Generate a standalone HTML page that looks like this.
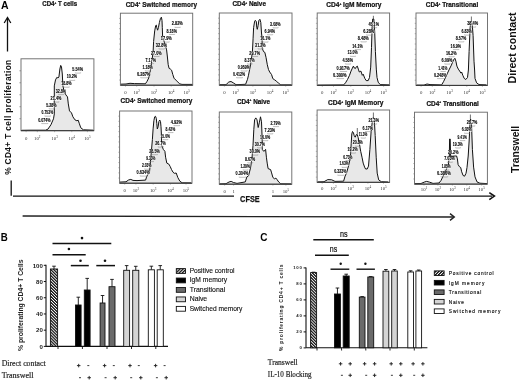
<!DOCTYPE html>
<html><head><meta charset="utf-8"><style>
html,body{margin:0;padding:0;background:#fff;width:520px;height:381px;overflow:hidden}
svg{display:block;will-change:transform}
</style></head><body>
<svg width="520" height="381" viewBox="0 0 520 381"><defs>
<pattern id="hB" width="2.1" height="2.1" patternUnits="userSpaceOnUse" patternTransform="rotate(-45)"><rect width="2.1" height="2.1" fill="#fff"/><rect width="1.25" height="2.1" fill="#111"/></pattern>
<pattern id="hC" width="1.9" height="1.9" patternUnits="userSpaceOnUse" patternTransform="rotate(-45)"><rect width="1.9" height="1.9" fill="#fff"/><rect width="1.1" height="1.9" fill="#111"/></pattern>
<pattern id="hL" width="2.2" height="2.2" patternUnits="userSpaceOnUse" patternTransform="rotate(45)"><rect width="2.2" height="2.2" fill="#fff"/><rect width="1.3" height="2.2" fill="#111"/></pattern>
</defs>
<text x="1.0" y="9.3" font-family='"Liberation Sans", sans-serif' font-size="10.6" font-weight="bold" fill="#000" text-anchor="start" textLength="7.6" lengthAdjust="spacingAndGlyphs" >A</text>
<line x1="7.5" y1="18" x2="7.5" y2="51.5" stroke="#111" stroke-width="1.3" />
<polyline points="4.2,23 7.5,17.5 10.8,23" fill="none" stroke="#111" stroke-width="1.3"/>
<text transform="translate(11.2,174.8) rotate(-90)" font-family='"Liberation Sans", sans-serif' font-size="8.3" font-weight="bold" fill="#111" textLength="115" lengthAdjust="spacing">% CD4+ T cell proliferation</text>
<line x1="11.2" y1="180.5" x2="11.2" y2="195.8" stroke="#111" stroke-width="1.3" />
<line x1="13" y1="196.1" x2="234" y2="196.1" stroke="#111" stroke-width="1.3" />
<line x1="272" y1="196.1" x2="492" y2="196.1" stroke="#111" stroke-width="1.3" />
<polyline points="489.3,192.6 494.4,196.1 489.3,199.6" fill="none" stroke="#111" stroke-width="1.6"/>
<text x="240.1" y="201.5" font-family='"Liberation Sans", sans-serif' font-size="9.9" font-weight="bold" fill="#111" text-anchor="start" textLength="19.6" lengthAdjust="spacingAndGlyphs" stroke="#111" stroke-width="0.25">CFSE</text>
<line x1="22.6" y1="216" x2="454" y2="217" stroke="#222" stroke-width="1.3" />
<polyline points="450,213.6 454.3,217 450,220.4" fill="none" stroke="#222" stroke-width="1.4"/>
<text transform="translate(516.3,83.4) rotate(-90)" font-family='"Liberation Sans", sans-serif' font-size="11.5" font-weight="bold" fill="#111" textLength="71" lengthAdjust="spacingAndGlyphs">Direct contact</text>
<text transform="translate(518.9,172.9) rotate(-90)" font-family='"Liberation Sans", sans-serif' font-size="10.3" font-weight="bold" fill="#111" textLength="47" lengthAdjust="spacingAndGlyphs">Transwell</text>
<text x="42.2" y="6.0" font-family='"Liberation Sans", sans-serif' font-size="6.9" font-weight="bold" fill="#111" stroke="#111" stroke-width="0.22" textLength="35" lengthAdjust="spacingAndGlyphs">CD4<tspan font-size="3.4" dy="-2.3">+</tspan><tspan dy="2.3"> T cells</tspan></text>
<line x1="19.4" y1="118.71666666666665" x2="21" y2="118.71666666666665" stroke="#888" stroke-width="0.8" />
<line x1="19.4" y1="106.73333333333332" x2="21" y2="106.73333333333332" stroke="#888" stroke-width="0.8" />
<line x1="19.4" y1="94.75" x2="21" y2="94.75" stroke="#888" stroke-width="0.8" />
<line x1="19.4" y1="82.76666666666665" x2="21" y2="82.76666666666665" stroke="#888" stroke-width="0.8" />
<line x1="19.4" y1="70.78333333333333" x2="21" y2="70.78333333333333" stroke="#888" stroke-width="0.8" />
<line x1="26.1" y1="130.7" x2="26.1" y2="132.2" stroke="#999" stroke-width="0.6" />
<text x="26.1" y="139.7" font-family='"Liberation Serif", serif' font-size="4.8" font-weight="normal" fill="#333" text-anchor="middle" >0</text>
<line x1="37.3" y1="130.7" x2="37.3" y2="132.2" stroke="#999" stroke-width="0.6" />
<text x="37.3" y="139.7" font-family='"Liberation Serif", serif' font-size="4.8" fill="#333" text-anchor="middle">10<tspan font-size="3.3" dy="-2.1">2</tspan></text>
<line x1="54.6" y1="130.7" x2="54.6" y2="132.2" stroke="#999" stroke-width="0.6" />
<text x="54.6" y="139.7" font-family='"Liberation Serif", serif' font-size="4.8" fill="#333" text-anchor="middle">10<tspan font-size="3.3" dy="-2.1">3</tspan></text>
<line x1="71.8" y1="130.7" x2="71.8" y2="132.2" stroke="#999" stroke-width="0.6" />
<text x="71.8" y="139.7" font-family='"Liberation Serif", serif' font-size="4.8" fill="#333" text-anchor="middle">10<tspan font-size="3.3" dy="-2.1">4</tspan></text>
<line x1="87.4" y1="130.7" x2="87.4" y2="132.2" stroke="#999" stroke-width="0.6" />
<text x="87.4" y="139.7" font-family='"Liberation Serif", serif' font-size="4.8" fill="#333" text-anchor="middle">10<tspan font-size="3.3" dy="-2.1">5</tspan></text>
<path d="M21.5,130.3 L30.0,130.2 L45.5,130.2 L47.9,129.2 L50.9,124.8 L53.5,118.8 L54.3,113.9 L54.3,85.9 L55.5,79.9 L56.9,77.3 L57.9,78.0 L58.9,77.0 L59.9,69.0 L60.7,65.4 L61.5,67.0 L62.3,74.0 L62.9,85.9 L64.3,91.9 L65.9,94.9 L67.5,96.9 L68.3,103.9 L69.5,110.9 L71.5,112.9 L72.9,116.8 L74.9,119.8 L76.9,120.8 L78.2,120.2 L79.4,123.8 L80.8,127.8 L83.4,129.8 L93.5,130.2 L93.5,130.7 L21.5,130.7 Z" fill="#e8e8e8" stroke="none"/>
<path d="M21.5,130.3 L30.0,130.2 L45.5,130.2 L47.9,129.2 L50.9,124.8 L53.5,118.8 L54.3,113.9 L54.3,85.9 L55.5,79.9 L56.9,77.3 L57.9,78.0 L58.9,77.0 L59.9,69.0 L60.7,65.4 L61.5,67.0 L62.3,74.0 L62.9,85.9 L64.3,91.9 L65.9,94.9 L67.5,96.9 L68.3,103.9 L69.5,110.9 L71.5,112.9 L72.9,116.8 L74.9,119.8 L76.9,120.8 L78.2,120.2 L79.4,123.8 L80.8,127.8 L83.4,129.8 L93.5,130.2" fill="none" stroke="#111" stroke-width="1" stroke-linejoin="round"/>
<rect x="38.0" y="118.1" width="12.8" height="3.9" fill="#fff" fill-opacity="0.85"/>
<text x="38.2" y="121.6" font-family='"Liberation Sans", sans-serif' font-size="4.5" font-weight="bold" fill="#000" stroke="#000" stroke-width="0.1" textLength="12.4" lengthAdjust="spacingAndGlyphs">0.074%</text>
<polyline points="41.7,123.0 41.7,123.6 47.9,123.6 47.9,123.0" fill="none" stroke="#8a8a8a" stroke-width="0.55"/>
<rect x="41.4" y="110.7" width="12.0" height="3.9" fill="#fff" fill-opacity="0.85"/>
<text x="41.6" y="114.2" font-family='"Liberation Sans", sans-serif' font-size="4.5" font-weight="bold" fill="#000" stroke="#000" stroke-width="0.1" textLength="11.6" lengthAdjust="spacingAndGlyphs">0.753%</text>
<polyline points="44.8,115.6 44.8,116.2 50.6,116.2 50.6,115.6" fill="none" stroke="#8a8a8a" stroke-width="0.55"/>
<rect x="46.0" y="103.4" width="10.8" height="3.9" fill="#fff" fill-opacity="0.85"/>
<text x="46.2" y="106.9" font-family='"Liberation Sans", sans-serif' font-size="4.5" font-weight="bold" fill="#000" stroke="#000" stroke-width="0.1" textLength="10.4" lengthAdjust="spacingAndGlyphs">5.28%</text>
<polyline points="49.1,108.3 49.1,108.9 54.3,108.9 54.3,108.3" fill="none" stroke="#8a8a8a" stroke-width="0.55"/>
<rect x="50.4" y="96.6" width="11.2" height="3.9" fill="#fff" fill-opacity="0.85"/>
<text x="50.6" y="100.1" font-family='"Liberation Sans", sans-serif' font-size="4.5" font-weight="bold" fill="#000" stroke="#000" stroke-width="0.1" textLength="10.8" lengthAdjust="spacingAndGlyphs">21.4%</text>
<polyline points="53.6,101.5 53.6,102.1 59.0,102.1 59.0,101.5" fill="none" stroke="#8a8a8a" stroke-width="0.55"/>
<rect x="55.5" y="89.1" width="10.7" height="3.9" fill="#fff" fill-opacity="0.85"/>
<text x="55.7" y="92.6" font-family='"Liberation Sans", sans-serif' font-size="4.5" font-weight="bold" fill="#000" stroke="#000" stroke-width="0.1" textLength="10.3" lengthAdjust="spacingAndGlyphs">32.8%</text>
<polyline points="58.6,94.0 58.6,94.6 63.7,94.6 63.7,94.0" fill="none" stroke="#8a8a8a" stroke-width="0.55"/>
<rect x="61.0" y="81.7" width="10.8" height="3.9" fill="#fff" fill-opacity="0.85"/>
<text x="61.2" y="85.2" font-family='"Liberation Sans", sans-serif' font-size="4.5" font-weight="bold" fill="#000" stroke="#000" stroke-width="0.1" textLength="10.4" lengthAdjust="spacingAndGlyphs">18.8%</text>
<polyline points="64.1,86.6 64.1,87.2 69.3,87.2 69.3,86.6" fill="none" stroke="#8a8a8a" stroke-width="0.55"/>
<rect x="66.5" y="74.9" width="10.8" height="3.9" fill="#fff" fill-opacity="0.85"/>
<text x="66.7" y="78.4" font-family='"Liberation Sans", sans-serif' font-size="4.5" font-weight="bold" fill="#000" stroke="#000" stroke-width="0.1" textLength="10.4" lengthAdjust="spacingAndGlyphs">10.2%</text>
<polyline points="69.6,79.8 69.6,80.4 74.8,80.4 74.8,79.8" fill="none" stroke="#8a8a8a" stroke-width="0.55"/>
<rect x="72.1" y="67.6" width="11.1" height="3.9" fill="#fff" fill-opacity="0.85"/>
<text x="72.3" y="71.1" font-family='"Liberation Sans", sans-serif' font-size="4.5" font-weight="bold" fill="#000" stroke="#000" stroke-width="0.1" textLength="10.7" lengthAdjust="spacingAndGlyphs">5.54%</text>
<polyline points="75.3,72.5 75.3,73.1 80.6,73.1 80.6,72.5" fill="none" stroke="#8a8a8a" stroke-width="0.55"/>
<rect x="21" y="58.8" width="72.9" height="71.89999999999999" fill="none" stroke="#6e6e6e" stroke-width="0.95"/>
<line x1="21" y1="130.7" x2="93.9" y2="130.7" stroke="#333" stroke-width="1.0" />
<text x="125.7" y="6.5" font-family='"Liberation Sans", sans-serif' font-size="6.9" font-weight="bold" fill="#111" stroke="#111" stroke-width="0.22" textLength="71.3" lengthAdjust="spacingAndGlyphs">CD4<tspan font-size="3.4" dy="-2.3">+</tspan><tspan dy="2.3"> Switched memory</tspan></text>
<line x1="119.10000000000001" y1="80.05714285714286" x2="120.4" y2="80.05714285714286" stroke="#999" stroke-width="0.7" />
<line x1="119.10000000000001" y1="74.91428571428571" x2="120.4" y2="74.91428571428571" stroke="#999" stroke-width="0.7" />
<line x1="119.10000000000001" y1="69.77142857142857" x2="120.4" y2="69.77142857142857" stroke="#999" stroke-width="0.7" />
<line x1="119.10000000000001" y1="64.62857142857143" x2="120.4" y2="64.62857142857143" stroke="#999" stroke-width="0.7" />
<line x1="119.10000000000001" y1="59.48571428571429" x2="120.4" y2="59.48571428571429" stroke="#999" stroke-width="0.7" />
<line x1="119.10000000000001" y1="54.34285714285714" x2="120.4" y2="54.34285714285714" stroke="#999" stroke-width="0.7" />
<line x1="119.10000000000001" y1="49.2" x2="120.4" y2="49.2" stroke="#999" stroke-width="0.7" />
<line x1="119.10000000000001" y1="44.05714285714286" x2="120.4" y2="44.05714285714286" stroke="#999" stroke-width="0.7" />
<line x1="119.10000000000001" y1="38.91428571428572" x2="120.4" y2="38.91428571428572" stroke="#999" stroke-width="0.7" />
<line x1="119.10000000000001" y1="33.77142857142857" x2="120.4" y2="33.77142857142857" stroke="#999" stroke-width="0.7" />
<line x1="119.10000000000001" y1="28.628571428571433" x2="120.4" y2="28.628571428571433" stroke="#999" stroke-width="0.7" />
<line x1="119.10000000000001" y1="23.485714285714288" x2="120.4" y2="23.485714285714288" stroke="#999" stroke-width="0.7" />
<line x1="119.10000000000001" y1="18.34285714285714" x2="120.4" y2="18.34285714285714" stroke="#999" stroke-width="0.7" />
<line x1="125.5" y1="85.2" x2="125.5" y2="86.7" stroke="#999" stroke-width="0.6" />
<text x="125.5" y="94.3" font-family='"Liberation Serif", serif' font-size="4.8" font-weight="normal" fill="#333" text-anchor="middle" >0</text>
<line x1="136.70000000000002" y1="85.2" x2="136.70000000000002" y2="86.7" stroke="#999" stroke-width="0.6" />
<text x="136.7" y="94.3" font-family='"Liberation Serif", serif' font-size="4.8" fill="#333" text-anchor="middle">10<tspan font-size="3.3" dy="-2.1">2</tspan></text>
<line x1="154.0" y1="85.2" x2="154.0" y2="86.7" stroke="#999" stroke-width="0.6" />
<text x="154.0" y="94.3" font-family='"Liberation Serif", serif' font-size="4.8" fill="#333" text-anchor="middle">10<tspan font-size="3.3" dy="-2.1">3</tspan></text>
<line x1="171.2" y1="85.2" x2="171.2" y2="86.7" stroke="#999" stroke-width="0.6" />
<text x="171.2" y="94.3" font-family='"Liberation Serif", serif' font-size="4.8" fill="#333" text-anchor="middle">10<tspan font-size="3.3" dy="-2.1">4</tspan></text>
<line x1="186.8" y1="85.2" x2="186.8" y2="86.7" stroke="#999" stroke-width="0.6" />
<text x="186.8" y="94.3" font-family='"Liberation Serif", serif' font-size="4.8" fill="#333" text-anchor="middle">10<tspan font-size="3.3" dy="-2.1">5</tspan></text>
<path d="M120.5,84.2 L126.0,84.0 L130.0,83.3 L134.3,83.6 L145.4,83.8 L147.0,81.4 L148.7,78.0 L150.5,70.0 L152.0,60.0 L153.1,52.0 L153.6,41.4 L154.7,30.9 L155.7,25.6 L156.3,25.1 L156.8,27.7 L157.6,30.2 L158.4,27.7 L159.4,22.5 L160.5,18.3 L161.4,17.2 L162.0,20.4 L162.3,27.7 L162.6,36.1 L164.0,41.0 L165.5,46.0 L166.6,49.9 L167.3,56.0 L168.2,64.7 L169.1,68.4 L170.3,69.0 L171.6,70.2 L172.8,74.5 L174.0,78.2 L175.9,80.1 L177.7,81.9 L179.6,83.8 L182.0,84.4 L192.5,84.4 L192.5,85.2 L120.5,85.2 Z" fill="#e8e8e8" stroke="none"/>
<path d="M120.5,84.2 L126.0,84.0 L130.0,83.3 L134.3,83.6 L145.4,83.8 L147.0,81.4 L148.7,78.0 L150.5,70.0 L152.0,60.0 L153.1,52.0 L153.6,41.4 L154.7,30.9 L155.7,25.6 L156.3,25.1 L156.8,27.7 L157.6,30.2 L158.4,27.7 L159.4,22.5 L160.5,18.3 L161.4,17.2 L162.0,20.4 L162.3,27.7 L162.6,36.1 L164.0,41.0 L165.5,46.0 L166.6,49.9 L167.3,56.0 L168.2,64.7 L169.1,68.4 L170.3,69.0 L171.6,70.2 L172.8,74.5 L174.0,78.2 L175.9,80.1 L177.7,81.9 L179.6,83.8 L182.0,84.4 L192.5,84.4" fill="none" stroke="#111" stroke-width="1" stroke-linejoin="round"/>
<rect x="136.7" y="72.3" width="13.9" height="3.9" fill="#fff" fill-opacity="0.85"/>
<text x="136.9" y="75.8" font-family='"Liberation Sans", sans-serif' font-size="4.5" font-weight="bold" fill="#000" stroke="#000" stroke-width="0.1" textLength="13.5" lengthAdjust="spacingAndGlyphs">0.287%</text>
<polyline points="140.7,77.2 140.7,77.8 147.4,77.8 147.4,77.2" fill="none" stroke="#8a8a8a" stroke-width="0.55"/>
<rect x="142.2" y="65.5" width="10.8" height="3.9" fill="#fff" fill-opacity="0.85"/>
<text x="142.4" y="69.0" font-family='"Liberation Sans", sans-serif' font-size="4.5" font-weight="bold" fill="#000" stroke="#000" stroke-width="0.1" textLength="10.4" lengthAdjust="spacingAndGlyphs">1.18%</text>
<polyline points="145.3,70.4 145.3,71.0 150.5,71.0 150.5,70.4" fill="none" stroke="#8a8a8a" stroke-width="0.55"/>
<rect x="145.3" y="58.1" width="10.9" height="3.9" fill="#fff" fill-opacity="0.85"/>
<text x="145.5" y="61.6" font-family='"Liberation Sans", sans-serif' font-size="4.5" font-weight="bold" fill="#000" stroke="#000" stroke-width="0.1" textLength="10.5" lengthAdjust="spacingAndGlyphs">7.17%</text>
<polyline points="148.4,63.0 148.4,63.6 153.7,63.6 153.7,63.0" fill="none" stroke="#8a8a8a" stroke-width="0.55"/>
<rect x="150.8" y="51.0" width="10.9" height="3.9" fill="#fff" fill-opacity="0.85"/>
<text x="151.0" y="54.5" font-family='"Liberation Sans", sans-serif' font-size="4.5" font-weight="bold" fill="#000" stroke="#000" stroke-width="0.1" textLength="10.5" lengthAdjust="spacingAndGlyphs">27.0%</text>
<polyline points="153.9,55.9 153.9,56.5 159.2,56.5 159.2,55.9" fill="none" stroke="#8a8a8a" stroke-width="0.55"/>
<rect x="155.6" y="43.5" width="11.6" height="3.9" fill="#fff" fill-opacity="0.85"/>
<text x="155.8" y="47.0" font-family='"Liberation Sans", sans-serif' font-size="4.5" font-weight="bold" fill="#000" stroke="#000" stroke-width="0.1" textLength="11.2" lengthAdjust="spacingAndGlyphs">32.8%</text>
<polyline points="158.9,48.4 158.9,49.0 164.5,49.0 164.5,48.4" fill="none" stroke="#8a8a8a" stroke-width="0.55"/>
<rect x="160.6" y="36.6" width="11.3" height="3.9" fill="#fff" fill-opacity="0.85"/>
<text x="160.8" y="40.1" font-family='"Liberation Sans", sans-serif' font-size="4.5" font-weight="bold" fill="#000" stroke="#000" stroke-width="0.1" textLength="10.9" lengthAdjust="spacingAndGlyphs">17.9%</text>
<polyline points="163.9,41.5 163.9,42.1 169.3,42.1 169.3,41.5" fill="none" stroke="#8a8a8a" stroke-width="0.55"/>
<rect x="166.3" y="29.0" width="10.8" height="3.9" fill="#fff" fill-opacity="0.85"/>
<text x="166.5" y="32.5" font-family='"Liberation Sans", sans-serif' font-size="4.5" font-weight="bold" fill="#000" stroke="#000" stroke-width="0.1" textLength="10.4" lengthAdjust="spacingAndGlyphs">8.18%</text>
<polyline points="169.4,33.9 169.4,34.5 174.6,34.5 174.6,33.9" fill="none" stroke="#8a8a8a" stroke-width="0.55"/>
<rect x="171.6" y="21.9" width="11.3" height="3.9" fill="#fff" fill-opacity="0.85"/>
<text x="171.8" y="25.4" font-family='"Liberation Sans", sans-serif' font-size="4.5" font-weight="bold" fill="#000" stroke="#000" stroke-width="0.1" textLength="10.9" lengthAdjust="spacingAndGlyphs">2.82%</text>
<polyline points="174.9,26.8 174.9,27.4 180.3,27.4 180.3,26.8" fill="none" stroke="#8a8a8a" stroke-width="0.55"/>
<rect x="120.4" y="13.2" width="72.29999999999998" height="72.0" fill="none" stroke="#6e6e6e" stroke-width="0.95"/>
<line x1="120.4" y1="85.2" x2="192.7" y2="85.2" stroke="#333" stroke-width="1.0" />
<text x="232.5" y="6.3" font-family='"Liberation Sans", sans-serif' font-size="6.9" font-weight="bold" fill="#111" stroke="#111" stroke-width="0.22" textLength="33.5" lengthAdjust="spacingAndGlyphs">CD4<tspan font-size="3.4" dy="-2.3">+</tspan><tspan dy="2.3"> Naive</tspan></text>
<line x1="218.0" y1="80.04285714285714" x2="219.3" y2="80.04285714285714" stroke="#999" stroke-width="0.7" />
<line x1="218.0" y1="74.88571428571429" x2="219.3" y2="74.88571428571429" stroke="#999" stroke-width="0.7" />
<line x1="218.0" y1="69.72857142857143" x2="219.3" y2="69.72857142857143" stroke="#999" stroke-width="0.7" />
<line x1="218.0" y1="64.57142857142857" x2="219.3" y2="64.57142857142857" stroke="#999" stroke-width="0.7" />
<line x1="218.0" y1="59.41428571428572" x2="219.3" y2="59.41428571428572" stroke="#999" stroke-width="0.7" />
<line x1="218.0" y1="54.25714285714285" x2="219.3" y2="54.25714285714285" stroke="#999" stroke-width="0.7" />
<line x1="218.0" y1="49.1" x2="219.3" y2="49.1" stroke="#999" stroke-width="0.7" />
<line x1="218.0" y1="43.94285714285714" x2="219.3" y2="43.94285714285714" stroke="#999" stroke-width="0.7" />
<line x1="218.0" y1="38.785714285714285" x2="219.3" y2="38.785714285714285" stroke="#999" stroke-width="0.7" />
<line x1="218.0" y1="33.62857142857143" x2="219.3" y2="33.62857142857143" stroke="#999" stroke-width="0.7" />
<line x1="218.0" y1="28.471428571428568" x2="219.3" y2="28.471428571428568" stroke="#999" stroke-width="0.7" />
<line x1="218.0" y1="23.31428571428571" x2="219.3" y2="23.31428571428571" stroke="#999" stroke-width="0.7" />
<line x1="218.0" y1="18.15714285714286" x2="219.3" y2="18.15714285714286" stroke="#999" stroke-width="0.7" />
<line x1="224.4" y1="85.2" x2="224.4" y2="86.7" stroke="#999" stroke-width="0.6" />
<text x="224.4" y="94.3" font-family='"Liberation Serif", serif' font-size="4.8" font-weight="normal" fill="#333" text-anchor="middle" >0</text>
<line x1="235.60000000000002" y1="85.2" x2="235.60000000000002" y2="86.7" stroke="#999" stroke-width="0.6" />
<text x="235.6" y="94.3" font-family='"Liberation Serif", serif' font-size="4.8" fill="#333" text-anchor="middle">10<tspan font-size="3.3" dy="-2.1">2</tspan></text>
<line x1="252.9" y1="85.2" x2="252.9" y2="86.7" stroke="#999" stroke-width="0.6" />
<text x="252.9" y="94.3" font-family='"Liberation Serif", serif' font-size="4.8" fill="#333" text-anchor="middle">10<tspan font-size="3.3" dy="-2.1">3</tspan></text>
<line x1="270.1" y1="85.2" x2="270.1" y2="86.7" stroke="#999" stroke-width="0.6" />
<text x="270.1" y="94.3" font-family='"Liberation Serif", serif' font-size="4.8" fill="#333" text-anchor="middle">10<tspan font-size="3.3" dy="-2.1">4</tspan></text>
<line x1="285.70000000000005" y1="85.2" x2="285.70000000000005" y2="86.7" stroke="#999" stroke-width="0.6" />
<text x="285.7" y="94.3" font-family='"Liberation Serif", serif' font-size="4.8" fill="#333" text-anchor="middle">10<tspan font-size="3.3" dy="-2.1">5</tspan></text>
<path d="M219.5,84.7 L226.0,84.7 L228.8,82.0 L231.0,81.5 L233.7,83.1 L236.0,84.7 L245.6,84.3 L247.5,79.3 L248.5,75.2 L250.5,65.0 L252.4,52.0 L253.1,38.2 L253.6,27.7 L254.5,22.0 L255.2,20.4 L256.3,21.4 L256.8,27.7 L257.3,29.3 L258.1,25.6 L258.9,20.4 L259.9,19.3 L260.8,22.5 L261.5,33.0 L262.0,37.2 L262.3,48.6 L263.6,51.7 L264.8,52.3 L266.0,57.3 L267.3,64.7 L268.5,69.6 L269.7,72.0 L271.6,74.6 L272.8,78.6 L274.7,79.9 L276.5,81.2 L278.4,83.1 L280.8,84.9 L291.5,84.9 L291.5,85.2 L219.5,85.2 Z" fill="#e8e8e8" stroke="none"/>
<path d="M219.5,84.7 L226.0,84.7 L228.8,82.0 L231.0,81.5 L233.7,83.1 L236.0,84.7 L245.6,84.3 L247.5,79.3 L248.5,75.2 L250.5,65.0 L252.4,52.0 L253.1,38.2 L253.6,27.7 L254.5,22.0 L255.2,20.4 L256.3,21.4 L256.8,27.7 L257.3,29.3 L258.1,25.6 L258.9,20.4 L259.9,19.3 L260.8,22.5 L261.5,33.0 L262.0,37.2 L262.3,48.6 L263.6,51.7 L264.8,52.3 L266.0,57.3 L267.3,64.7 L268.5,69.6 L269.7,72.0 L271.6,74.6 L272.8,78.6 L274.7,79.9 L276.5,81.2 L278.4,83.1 L280.8,84.9 L291.5,84.9" fill="none" stroke="#111" stroke-width="1" stroke-linejoin="round"/>
<rect x="232.9" y="72.3" width="12.4" height="3.9" fill="#fff" fill-opacity="0.85"/>
<text x="233.1" y="75.8" font-family='"Liberation Sans", sans-serif' font-size="4.5" font-weight="bold" fill="#000" stroke="#000" stroke-width="0.1" textLength="12.0" lengthAdjust="spacingAndGlyphs">0.412%</text>
<polyline points="236.5,77.2 236.5,77.8 242.5,77.8 242.5,77.2" fill="none" stroke="#8a8a8a" stroke-width="0.55"/>
<rect x="237.6" y="65.5" width="12.4" height="3.9" fill="#fff" fill-opacity="0.85"/>
<text x="237.8" y="69.0" font-family='"Liberation Sans", sans-serif' font-size="4.5" font-weight="bold" fill="#000" stroke="#000" stroke-width="0.1" textLength="12.0" lengthAdjust="spacingAndGlyphs">0.959%</text>
<polyline points="241.2,70.4 241.2,71.0 247.2,71.0 247.2,70.4" fill="none" stroke="#8a8a8a" stroke-width="0.55"/>
<rect x="244.4" y="58.6" width="10.3" height="3.9" fill="#fff" fill-opacity="0.85"/>
<text x="244.6" y="62.1" font-family='"Liberation Sans", sans-serif' font-size="4.5" font-weight="bold" fill="#000" stroke="#000" stroke-width="0.1" textLength="9.9" lengthAdjust="spacingAndGlyphs">8.37%</text>
<polyline points="247.4,63.5 247.4,64.1 252.3,64.1 252.3,63.5" fill="none" stroke="#8a8a8a" stroke-width="0.55"/>
<rect x="249.1" y="51.0" width="11.1" height="3.9" fill="#fff" fill-opacity="0.85"/>
<text x="249.3" y="54.5" font-family='"Liberation Sans", sans-serif' font-size="4.5" font-weight="bold" fill="#000" stroke="#000" stroke-width="0.1" textLength="10.7" lengthAdjust="spacingAndGlyphs">29.7%</text>
<polyline points="252.3,55.9 252.3,56.5 257.6,56.5 257.6,55.9" fill="none" stroke="#8a8a8a" stroke-width="0.55"/>
<rect x="254.9" y="43.5" width="10.9" height="3.9" fill="#fff" fill-opacity="0.85"/>
<text x="255.1" y="47.0" font-family='"Liberation Sans", sans-serif' font-size="4.5" font-weight="bold" fill="#000" stroke="#000" stroke-width="0.1" textLength="10.5" lengthAdjust="spacingAndGlyphs">31.2%</text>
<polyline points="258.0,48.4 258.0,49.0 263.3,49.0 263.3,48.4" fill="none" stroke="#8a8a8a" stroke-width="0.55"/>
<rect x="260.1" y="36.6" width="10.4" height="3.9" fill="#fff" fill-opacity="0.85"/>
<text x="260.3" y="40.1" font-family='"Liberation Sans", sans-serif' font-size="4.5" font-weight="bold" fill="#000" stroke="#000" stroke-width="0.1" textLength="10.0" lengthAdjust="spacingAndGlyphs">16.1%</text>
<polyline points="263.1,41.5 263.1,42.1 268.1,42.1 268.1,41.5" fill="none" stroke="#8a8a8a" stroke-width="0.55"/>
<rect x="264.4" y="29.3" width="10.8" height="3.9" fill="#fff" fill-opacity="0.85"/>
<text x="264.6" y="32.8" font-family='"Liberation Sans", sans-serif' font-size="4.5" font-weight="bold" fill="#000" stroke="#000" stroke-width="0.1" textLength="10.4" lengthAdjust="spacingAndGlyphs">6.94%</text>
<polyline points="267.5,34.2 267.5,34.8 272.7,34.8 272.7,34.2" fill="none" stroke="#8a8a8a" stroke-width="0.55"/>
<rect x="269.9" y="22.4" width="10.8" height="3.9" fill="#fff" fill-opacity="0.85"/>
<text x="270.1" y="25.9" font-family='"Liberation Sans", sans-serif' font-size="4.5" font-weight="bold" fill="#000" stroke="#000" stroke-width="0.1" textLength="10.4" lengthAdjust="spacingAndGlyphs">3.08%</text>
<polyline points="273.0,27.3 273.0,27.9 278.2,27.9 278.2,27.3" fill="none" stroke="#8a8a8a" stroke-width="0.55"/>
<rect x="219.3" y="13" width="72.69999999999999" height="72.2" fill="none" stroke="#6e6e6e" stroke-width="0.95"/>
<line x1="219.3" y1="85.2" x2="292" y2="85.2" stroke="#333" stroke-width="1.0" />
<text x="326.2" y="7.0" font-family='"Liberation Sans", sans-serif' font-size="6.9" font-weight="bold" fill="#111" stroke="#111" stroke-width="0.22" textLength="55.3" lengthAdjust="spacingAndGlyphs">CD4<tspan font-size="3.4" dy="-2.3">+</tspan><tspan dy="2.3"> IgM Memory</tspan></text>
<line x1="315.9" y1="80.22857142857143" x2="317.2" y2="80.22857142857143" stroke="#999" stroke-width="0.7" />
<line x1="315.9" y1="75.05714285714286" x2="317.2" y2="75.05714285714286" stroke="#999" stroke-width="0.7" />
<line x1="315.9" y1="69.88571428571429" x2="317.2" y2="69.88571428571429" stroke="#999" stroke-width="0.7" />
<line x1="315.9" y1="64.71428571428572" x2="317.2" y2="64.71428571428572" stroke="#999" stroke-width="0.7" />
<line x1="315.9" y1="59.542857142857144" x2="317.2" y2="59.542857142857144" stroke="#999" stroke-width="0.7" />
<line x1="315.9" y1="54.371428571428574" x2="317.2" y2="54.371428571428574" stroke="#999" stroke-width="0.7" />
<line x1="315.9" y1="49.2" x2="317.2" y2="49.2" stroke="#999" stroke-width="0.7" />
<line x1="315.9" y1="44.02857142857143" x2="317.2" y2="44.02857142857143" stroke="#999" stroke-width="0.7" />
<line x1="315.9" y1="38.85714285714286" x2="317.2" y2="38.85714285714286" stroke="#999" stroke-width="0.7" />
<line x1="315.9" y1="33.68571428571429" x2="317.2" y2="33.68571428571429" stroke="#999" stroke-width="0.7" />
<line x1="315.9" y1="28.514285714285712" x2="317.2" y2="28.514285714285712" stroke="#999" stroke-width="0.7" />
<line x1="315.9" y1="23.34285714285714" x2="317.2" y2="23.34285714285714" stroke="#999" stroke-width="0.7" />
<line x1="315.9" y1="18.171428571428578" x2="317.2" y2="18.171428571428578" stroke="#999" stroke-width="0.7" />
<line x1="322.3" y1="85.4" x2="322.3" y2="86.9" stroke="#999" stroke-width="0.6" />
<text x="322.3" y="94.3" font-family='"Liberation Serif", serif' font-size="4.8" font-weight="normal" fill="#333" text-anchor="middle" >0</text>
<line x1="333.5" y1="85.4" x2="333.5" y2="86.9" stroke="#999" stroke-width="0.6" />
<text x="333.5" y="94.3" font-family='"Liberation Serif", serif' font-size="4.8" fill="#333" text-anchor="middle">10<tspan font-size="3.3" dy="-2.1">2</tspan></text>
<line x1="350.8" y1="85.4" x2="350.8" y2="86.9" stroke="#999" stroke-width="0.6" />
<text x="350.8" y="94.3" font-family='"Liberation Serif", serif' font-size="4.8" fill="#333" text-anchor="middle">10<tspan font-size="3.3" dy="-2.1">3</tspan></text>
<line x1="368.0" y1="85.4" x2="368.0" y2="86.9" stroke="#999" stroke-width="0.6" />
<text x="368.0" y="94.3" font-family='"Liberation Serif", serif' font-size="4.8" fill="#333" text-anchor="middle">10<tspan font-size="3.3" dy="-2.1">4</tspan></text>
<line x1="383.6" y1="85.4" x2="383.6" y2="86.9" stroke="#999" stroke-width="0.6" />
<text x="383.6" y="94.3" font-family='"Liberation Serif", serif' font-size="4.8" fill="#333" text-anchor="middle">10<tspan font-size="3.3" dy="-2.1">5</tspan></text>
<path d="M317.5,85.1 L343.6,84.9 L345.5,82.8 L347.5,79.5 L349.5,75.3 L351.0,71.1 L352.4,68.1 L353.4,66.1 L354.4,68.1 L355.4,68.5 L356.4,66.7 L357.3,66.1 L358.3,69.1 L359.3,72.0 L360.9,71.1 L362.3,75.3 L363.2,74.2 L364.8,78.4 L366.2,80.6 L368.2,80.6 L369.5,77.5 L370.7,67.1 L371.5,47.4 L372.1,27.7 L372.7,19.0 L373.8,19.0 L374.7,31.7 L375.4,51.4 L376.3,69.1 L377.0,77.5 L378.2,82.2 L380.2,84.6 L389.5,84.9 L389.5,85.4 L317.5,85.4 Z" fill="#e8e8e8" stroke="none"/>
<path d="M317.5,85.1 L343.6,84.9 L345.5,82.8 L347.5,79.5 L349.5,75.3 L351.0,71.1 L352.4,68.1 L353.4,66.1 L354.4,68.1 L355.4,68.5 L356.4,66.7 L357.3,66.1 L358.3,69.1 L359.3,72.0 L360.9,71.1 L362.3,75.3 L363.2,74.2 L364.8,78.4 L366.2,80.6 L368.2,80.6 L369.5,77.5 L370.7,67.1 L371.5,47.4 L372.1,27.7 L372.7,19.0 L373.8,19.0 L374.7,31.7 L375.4,51.4 L376.3,69.1 L377.0,77.5 L378.2,82.2 L380.2,84.6 L389.5,84.9" fill="none" stroke="#111" stroke-width="1" stroke-linejoin="round"/>
<line x1="373.4" y1="15.8" x2="373.4" y2="20" stroke="#333" stroke-width="0.7" />
<rect x="332.9" y="73.1" width="13.9" height="3.9" fill="#fff" fill-opacity="0.85"/>
<text x="333.1" y="76.6" font-family='"Liberation Sans", sans-serif' font-size="4.5" font-weight="bold" fill="#000" stroke="#000" stroke-width="0.1" textLength="13.5" lengthAdjust="spacingAndGlyphs">0.300%</text>
<polyline points="336.9,78.0 336.9,78.6 343.6,78.6 343.6,78.0" fill="none" stroke="#8a8a8a" stroke-width="0.55"/>
<rect x="336.3" y="66.0" width="13.5" height="3.9" fill="#fff" fill-opacity="0.85"/>
<text x="336.5" y="69.5" font-family='"Liberation Sans", sans-serif' font-size="4.5" font-weight="bold" fill="#000" stroke="#000" stroke-width="0.1" textLength="13.1" lengthAdjust="spacingAndGlyphs">0.917%</text>
<polyline points="340.2,70.9 340.2,71.5 346.7,71.5 346.7,70.9" fill="none" stroke="#8a8a8a" stroke-width="0.55"/>
<rect x="342.2" y="58.6" width="11.0" height="3.9" fill="#fff" fill-opacity="0.85"/>
<text x="342.4" y="62.1" font-family='"Liberation Sans", sans-serif' font-size="4.5" font-weight="bold" fill="#000" stroke="#000" stroke-width="0.1" textLength="10.6" lengthAdjust="spacingAndGlyphs">4.58%</text>
<polyline points="345.4,63.5 345.4,64.1 350.7,64.1 350.7,63.5" fill="none" stroke="#8a8a8a" stroke-width="0.55"/>
<rect x="347.4" y="50.9" width="10.5" height="3.9" fill="#fff" fill-opacity="0.85"/>
<text x="347.6" y="54.4" font-family='"Liberation Sans", sans-serif' font-size="4.5" font-weight="bold" fill="#000" stroke="#000" stroke-width="0.1" textLength="10.1" lengthAdjust="spacingAndGlyphs">13.0%</text>
<polyline points="350.4,55.8 350.4,56.4 355.5,56.4 355.5,55.8" fill="none" stroke="#8a8a8a" stroke-width="0.55"/>
<rect x="352.1" y="44.1" width="10.9" height="3.9" fill="#fff" fill-opacity="0.85"/>
<text x="352.3" y="47.6" font-family='"Liberation Sans", sans-serif' font-size="4.5" font-weight="bold" fill="#000" stroke="#000" stroke-width="0.1" textLength="10.5" lengthAdjust="spacingAndGlyphs">14.1%</text>
<polyline points="355.2,49.0 355.2,49.6 360.5,49.6 360.5,49.0" fill="none" stroke="#8a8a8a" stroke-width="0.55"/>
<rect x="357.6" y="36.4" width="11.3" height="3.9" fill="#fff" fill-opacity="0.85"/>
<text x="357.8" y="39.9" font-family='"Liberation Sans", sans-serif' font-size="4.5" font-weight="bold" fill="#000" stroke="#000" stroke-width="0.1" textLength="10.9" lengthAdjust="spacingAndGlyphs">8.48%</text>
<polyline points="360.9,41.3 360.9,41.9 366.3,41.9 366.3,41.3" fill="none" stroke="#8a8a8a" stroke-width="0.55"/>
<rect x="363.1" y="29.6" width="11.3" height="3.9" fill="#fff" fill-opacity="0.85"/>
<text x="363.3" y="33.1" font-family='"Liberation Sans", sans-serif' font-size="4.5" font-weight="bold" fill="#000" stroke="#000" stroke-width="0.1" textLength="10.9" lengthAdjust="spacingAndGlyphs">6.28%</text>
<polyline points="366.4,34.5 366.4,35.1 371.8,35.1 371.8,34.5" fill="none" stroke="#8a8a8a" stroke-width="0.55"/>
<rect x="368.2" y="22.3" width="11.0" height="3.9" fill="#fff" fill-opacity="0.85"/>
<text x="368.4" y="25.8" font-family='"Liberation Sans", sans-serif' font-size="4.5" font-weight="bold" fill="#000" stroke="#000" stroke-width="0.1" textLength="10.6" lengthAdjust="spacingAndGlyphs">45.1%</text>
<polyline points="371.4,27.2 371.4,27.8 376.7,27.8 376.7,27.2" fill="none" stroke="#8a8a8a" stroke-width="0.55"/>
<rect x="317.2" y="13" width="72.40000000000003" height="72.4" fill="none" stroke="#6e6e6e" stroke-width="0.95"/>
<line x1="317.2" y1="85.4" x2="389.6" y2="85.4" stroke="#333" stroke-width="1.0" />
<text x="425.8" y="7.0" font-family='"Liberation Sans", sans-serif' font-size="6.9" font-weight="bold" fill="#111" stroke="#111" stroke-width="0.22" textLength="52.4" lengthAdjust="spacingAndGlyphs">CD4<tspan font-size="3.4" dy="-2.3">+</tspan><tspan dy="2.3"> Transitional</tspan></text>
<line x1="414.7" y1="80.22857142857143" x2="416" y2="80.22857142857143" stroke="#999" stroke-width="0.7" />
<line x1="414.7" y1="75.05714285714286" x2="416" y2="75.05714285714286" stroke="#999" stroke-width="0.7" />
<line x1="414.7" y1="69.88571428571429" x2="416" y2="69.88571428571429" stroke="#999" stroke-width="0.7" />
<line x1="414.7" y1="64.71428571428572" x2="416" y2="64.71428571428572" stroke="#999" stroke-width="0.7" />
<line x1="414.7" y1="59.542857142857144" x2="416" y2="59.542857142857144" stroke="#999" stroke-width="0.7" />
<line x1="414.7" y1="54.371428571428574" x2="416" y2="54.371428571428574" stroke="#999" stroke-width="0.7" />
<line x1="414.7" y1="49.2" x2="416" y2="49.2" stroke="#999" stroke-width="0.7" />
<line x1="414.7" y1="44.02857142857143" x2="416" y2="44.02857142857143" stroke="#999" stroke-width="0.7" />
<line x1="414.7" y1="38.85714285714286" x2="416" y2="38.85714285714286" stroke="#999" stroke-width="0.7" />
<line x1="414.7" y1="33.68571428571429" x2="416" y2="33.68571428571429" stroke="#999" stroke-width="0.7" />
<line x1="414.7" y1="28.514285714285712" x2="416" y2="28.514285714285712" stroke="#999" stroke-width="0.7" />
<line x1="414.7" y1="23.34285714285714" x2="416" y2="23.34285714285714" stroke="#999" stroke-width="0.7" />
<line x1="414.7" y1="18.171428571428578" x2="416" y2="18.171428571428578" stroke="#999" stroke-width="0.7" />
<line x1="421.1" y1="85.4" x2="421.1" y2="86.9" stroke="#999" stroke-width="0.6" />
<text x="421.1" y="94.3" font-family='"Liberation Serif", serif' font-size="4.8" font-weight="normal" fill="#333" text-anchor="middle" >0</text>
<line x1="432.3" y1="85.4" x2="432.3" y2="86.9" stroke="#999" stroke-width="0.6" />
<text x="432.3" y="94.3" font-family='"Liberation Serif", serif' font-size="4.8" fill="#333" text-anchor="middle">10<tspan font-size="3.3" dy="-2.1">2</tspan></text>
<line x1="449.6" y1="85.4" x2="449.6" y2="86.9" stroke="#999" stroke-width="0.6" />
<text x="449.6" y="94.3" font-family='"Liberation Serif", serif' font-size="4.8" fill="#333" text-anchor="middle">10<tspan font-size="3.3" dy="-2.1">3</tspan></text>
<line x1="466.8" y1="85.4" x2="466.8" y2="86.9" stroke="#999" stroke-width="0.6" />
<text x="466.8" y="94.3" font-family='"Liberation Serif", serif' font-size="4.8" fill="#333" text-anchor="middle">10<tspan font-size="3.3" dy="-2.1">4</tspan></text>
<line x1="482.4" y1="85.4" x2="482.4" y2="86.9" stroke="#999" stroke-width="0.6" />
<text x="482.4" y="94.3" font-family='"Liberation Serif", serif' font-size="4.8" fill="#333" text-anchor="middle">10<tspan font-size="3.3" dy="-2.1">5</tspan></text>
<path d="M416.5,85.1 L424.0,85.1 L427.0,84.0 L430.0,84.6 L441.6,84.9 L443.5,81.7 L445.5,77.5 L447.5,73.1 L449.4,69.1 L451.4,65.1 L453.0,61.2 L454.0,59.2 L454.9,58.3 L455.9,61.2 L456.9,66.1 L458.3,69.1 L459.7,71.1 L460.9,73.1 L461.6,72.0 L462.8,75.3 L464.2,78.4 L465.8,79.5 L467.5,77.5 L468.4,70.0 L469.1,51.4 L470.1,27.7 L470.9,21.8 L472.0,21.6 L473.1,35.6 L474.0,61.2 L474.6,70.0 L475.0,78.4 L476.6,82.8 L479.0,84.6 L486.5,84.9 L486.5,85.4 L416.5,85.4 Z" fill="#e8e8e8" stroke="none"/>
<path d="M416.5,85.1 L424.0,85.1 L427.0,84.0 L430.0,84.6 L441.6,84.9 L443.5,81.7 L445.5,77.5 L447.5,73.1 L449.4,69.1 L451.4,65.1 L453.0,61.2 L454.0,59.2 L454.9,58.3 L455.9,61.2 L456.9,66.1 L458.3,69.1 L459.7,71.1 L460.9,73.1 L461.6,72.0 L462.8,75.3 L464.2,78.4 L465.8,79.5 L467.5,77.5 L468.4,70.0 L469.1,51.4 L470.1,27.7 L470.9,21.8 L472.0,21.6 L473.1,35.6 L474.0,61.2 L474.6,70.0 L475.0,78.4 L476.6,82.8 L479.0,84.6 L486.5,84.9" fill="none" stroke="#111" stroke-width="1" stroke-linejoin="round"/>
<line x1="471.4" y1="16.5" x2="471.4" y2="21" stroke="#333" stroke-width="0.7" />
<rect x="433.7" y="73.1" width="13.1" height="3.9" fill="#fff" fill-opacity="0.85"/>
<text x="433.9" y="76.6" font-family='"Liberation Sans", sans-serif' font-size="4.5" font-weight="bold" fill="#000" stroke="#000" stroke-width="0.1" textLength="12.7" lengthAdjust="spacingAndGlyphs">0.248%</text>
<polyline points="437.5,78.0 437.5,78.6 443.8,78.6 443.8,78.0" fill="none" stroke="#8a8a8a" stroke-width="0.55"/>
<rect x="438.0" y="66.0" width="9.6" height="3.9" fill="#fff" fill-opacity="0.85"/>
<text x="438.2" y="69.5" font-family='"Liberation Sans", sans-serif' font-size="4.5" font-weight="bold" fill="#000" stroke="#000" stroke-width="0.1" textLength="9.2" lengthAdjust="spacingAndGlyphs">1.41%</text>
<polyline points="440.8,70.9 440.8,71.5 445.4,71.5 445.4,70.9" fill="none" stroke="#8a8a8a" stroke-width="0.55"/>
<rect x="441.4" y="58.6" width="11.3" height="3.9" fill="#fff" fill-opacity="0.85"/>
<text x="441.6" y="62.1" font-family='"Liberation Sans", sans-serif' font-size="4.5" font-weight="bold" fill="#000" stroke="#000" stroke-width="0.1" textLength="10.9" lengthAdjust="spacingAndGlyphs">6.09%</text>
<polyline points="444.7,63.5 444.7,64.1 450.1,64.1 450.1,63.5" fill="none" stroke="#8a8a8a" stroke-width="0.55"/>
<rect x="445.7" y="51.3" width="11.0" height="3.9" fill="#fff" fill-opacity="0.85"/>
<text x="445.9" y="54.8" font-family='"Liberation Sans", sans-serif' font-size="4.5" font-weight="bold" fill="#000" stroke="#000" stroke-width="0.1" textLength="10.6" lengthAdjust="spacingAndGlyphs">16.2%</text>
<polyline points="448.9,56.2 448.9,56.8 454.2,56.8 454.2,56.2" fill="none" stroke="#8a8a8a" stroke-width="0.55"/>
<rect x="450.4" y="44.1" width="10.9" height="3.9" fill="#fff" fill-opacity="0.85"/>
<text x="450.6" y="47.6" font-family='"Liberation Sans", sans-serif' font-size="4.5" font-weight="bold" fill="#000" stroke="#000" stroke-width="0.1" textLength="10.5" lengthAdjust="spacingAndGlyphs">16.9%</text>
<polyline points="453.5,49.0 453.5,49.6 458.8,49.6 458.8,49.0" fill="none" stroke="#8a8a8a" stroke-width="0.55"/>
<rect x="455.6" y="36.4" width="10.8" height="3.9" fill="#fff" fill-opacity="0.85"/>
<text x="455.8" y="39.9" font-family='"Liberation Sans", sans-serif' font-size="4.5" font-weight="bold" fill="#000" stroke="#000" stroke-width="0.1" textLength="10.4" lengthAdjust="spacingAndGlyphs">8.57%</text>
<polyline points="458.7,41.3 458.7,41.9 463.9,41.9 463.9,41.3" fill="none" stroke="#8a8a8a" stroke-width="0.55"/>
<rect x="461.4" y="29.6" width="10.6" height="3.9" fill="#fff" fill-opacity="0.85"/>
<text x="461.6" y="33.1" font-family='"Liberation Sans", sans-serif' font-size="4.5" font-weight="bold" fill="#000" stroke="#000" stroke-width="0.1" textLength="10.2" lengthAdjust="spacingAndGlyphs">6.83%</text>
<polyline points="464.5,34.5 464.5,35.1 469.6,35.1 469.6,34.5" fill="none" stroke="#8a8a8a" stroke-width="0.55"/>
<rect x="467.0" y="21.6" width="11.3" height="3.9" fill="#fff" fill-opacity="0.85"/>
<text x="467.2" y="25.1" font-family='"Liberation Sans", sans-serif' font-size="4.5" font-weight="bold" fill="#000" stroke="#000" stroke-width="0.1" textLength="10.9" lengthAdjust="spacingAndGlyphs">38.4%</text>
<polyline points="470.3,26.5 470.3,27.1 475.7,27.1 475.7,26.5" fill="none" stroke="#8a8a8a" stroke-width="0.55"/>
<rect x="416" y="13" width="71.5" height="72.4" fill="none" stroke="#6e6e6e" stroke-width="0.95"/>
<line x1="416" y1="85.4" x2="487.5" y2="85.4" stroke="#333" stroke-width="1.0" />
<text x="120.6" y="103.2" font-family='"Liberation Sans", sans-serif' font-size="6.9" font-weight="bold" fill="#111" stroke="#111" stroke-width="0.22" textLength="71.7" lengthAdjust="spacingAndGlyphs">CD4<tspan font-size="3.4" dy="-2.3">+</tspan><tspan dy="2.3"> Switched memory</tspan></text>
<line x1="118.3" y1="178.04285714285714" x2="119.6" y2="178.04285714285714" stroke="#999" stroke-width="0.7" />
<line x1="118.3" y1="172.88571428571427" x2="119.6" y2="172.88571428571427" stroke="#999" stroke-width="0.7" />
<line x1="118.3" y1="167.72857142857143" x2="119.6" y2="167.72857142857143" stroke="#999" stroke-width="0.7" />
<line x1="118.3" y1="162.57142857142856" x2="119.6" y2="162.57142857142856" stroke="#999" stroke-width="0.7" />
<line x1="118.3" y1="157.4142857142857" x2="119.6" y2="157.4142857142857" stroke="#999" stroke-width="0.7" />
<line x1="118.3" y1="152.25714285714284" x2="119.6" y2="152.25714285714284" stroke="#999" stroke-width="0.7" />
<line x1="118.3" y1="147.1" x2="119.6" y2="147.1" stroke="#999" stroke-width="0.7" />
<line x1="118.3" y1="141.94285714285712" x2="119.6" y2="141.94285714285712" stroke="#999" stroke-width="0.7" />
<line x1="118.3" y1="136.78571428571428" x2="119.6" y2="136.78571428571428" stroke="#999" stroke-width="0.7" />
<line x1="118.3" y1="131.62857142857143" x2="119.6" y2="131.62857142857143" stroke="#999" stroke-width="0.7" />
<line x1="118.3" y1="126.47142857142858" x2="119.6" y2="126.47142857142858" stroke="#999" stroke-width="0.7" />
<line x1="118.3" y1="121.31428571428572" x2="119.6" y2="121.31428571428572" stroke="#999" stroke-width="0.7" />
<line x1="118.3" y1="116.15714285714286" x2="119.6" y2="116.15714285714286" stroke="#999" stroke-width="0.7" />
<line x1="124.69999999999999" y1="183.2" x2="124.69999999999999" y2="184.7" stroke="#999" stroke-width="0.6" />
<text x="124.7" y="191.8" font-family='"Liberation Serif", serif' font-size="4.8" font-weight="normal" fill="#333" text-anchor="middle" >0</text>
<line x1="135.9" y1="183.2" x2="135.9" y2="184.7" stroke="#999" stroke-width="0.6" />
<text x="135.9" y="191.8" font-family='"Liberation Serif", serif' font-size="4.8" fill="#333" text-anchor="middle">10<tspan font-size="3.3" dy="-2.1">2</tspan></text>
<line x1="153.2" y1="183.2" x2="153.2" y2="184.7" stroke="#999" stroke-width="0.6" />
<text x="153.2" y="191.8" font-family='"Liberation Serif", serif' font-size="4.8" fill="#333" text-anchor="middle">10<tspan font-size="3.3" dy="-2.1">3</tspan></text>
<line x1="170.39999999999998" y1="183.2" x2="170.39999999999998" y2="184.7" stroke="#999" stroke-width="0.6" />
<text x="170.4" y="191.8" font-family='"Liberation Serif", serif' font-size="4.8" fill="#333" text-anchor="middle">10<tspan font-size="3.3" dy="-2.1">4</tspan></text>
<line x1="186.0" y1="183.2" x2="186.0" y2="184.7" stroke="#999" stroke-width="0.6" />
<text x="186.0" y="191.8" font-family='"Liberation Serif", serif' font-size="4.8" fill="#333" text-anchor="middle">10<tspan font-size="3.3" dy="-2.1">5</tspan></text>
<path d="M120.0,182.1 L126.0,181.8 L128.5,180.0 L130.8,179.4 L133.0,180.4 L137.0,180.6 L145.6,180.1 L146.5,177.1 L147.5,175.1 L149.5,172.0 L151.5,150.0 L152.4,139.4 L153.1,128.9 L153.9,120.5 L154.7,116.8 L155.5,116.3 L156.3,118.4 L156.8,123.6 L157.3,129.0 L158.1,126.8 L158.9,121.5 L159.7,120.0 L160.5,121.5 L161.0,126.8 L161.5,136.2 L161.7,145.4 L163.3,149.4 L164.9,151.3 L165.6,157.2 L166.8,163.1 L168.8,164.1 L170.2,166.5 L171.5,169.5 L173.0,172.2 L174.3,173.3 L176.2,173.0 L177.9,177.7 L179.8,181.1 L182.1,182.8 L191.0,182.9 L191.0,183.2 L120.0,183.2 Z" fill="#e8e8e8" stroke="none"/>
<path d="M120.0,182.1 L126.0,181.8 L128.5,180.0 L130.8,179.4 L133.0,180.4 L137.0,180.6 L145.6,180.1 L146.5,177.1 L147.5,175.1 L149.5,172.0 L151.5,150.0 L152.4,139.4 L153.1,128.9 L153.9,120.5 L154.7,116.8 L155.5,116.3 L156.3,118.4 L156.8,123.6 L157.3,129.0 L158.1,126.8 L158.9,121.5 L159.7,120.0 L160.5,121.5 L161.0,126.8 L161.5,136.2 L161.7,145.4 L163.3,149.4 L164.9,151.3 L165.6,157.2 L166.8,163.1 L168.8,164.1 L170.2,166.5 L171.5,169.5 L173.0,172.2 L174.3,173.3 L176.2,173.0 L177.9,177.7 L179.8,181.1 L182.1,182.8 L191.0,182.9" fill="none" stroke="#111" stroke-width="1" stroke-linejoin="round"/>
<rect x="136.4" y="170.6" width="13.4" height="3.9" fill="#fff" fill-opacity="0.85"/>
<text x="136.6" y="174.1" font-family='"Liberation Sans", sans-serif' font-size="4.5" font-weight="bold" fill="#000" stroke="#000" stroke-width="0.1" textLength="13.0" lengthAdjust="spacingAndGlyphs">0.634%</text>
<polyline points="140.2,175.5 140.2,176.1 146.7,176.1 146.7,175.5" fill="none" stroke="#8a8a8a" stroke-width="0.55"/>
<rect x="141.8" y="163.7" width="9.7" height="3.9" fill="#fff" fill-opacity="0.85"/>
<text x="142.0" y="167.2" font-family='"Liberation Sans", sans-serif' font-size="4.5" font-weight="bold" fill="#000" stroke="#000" stroke-width="0.1" textLength="9.3" lengthAdjust="spacingAndGlyphs">2.03%</text>
<polyline points="144.6,168.6 144.6,169.2 149.3,169.2 149.3,168.6" fill="none" stroke="#8a8a8a" stroke-width="0.55"/>
<rect x="146.1" y="156.1" width="9.6" height="3.9" fill="#fff" fill-opacity="0.85"/>
<text x="146.3" y="159.6" font-family='"Liberation Sans", sans-serif' font-size="4.5" font-weight="bold" fill="#000" stroke="#000" stroke-width="0.1" textLength="9.2" lengthAdjust="spacingAndGlyphs">9.33%</text>
<polyline points="148.9,161.0 148.9,161.6 153.5,161.6 153.5,161.0" fill="none" stroke="#8a8a8a" stroke-width="0.55"/>
<rect x="149.0" y="149.2" width="11.0" height="3.9" fill="#fff" fill-opacity="0.85"/>
<text x="149.2" y="152.7" font-family='"Liberation Sans", sans-serif' font-size="4.5" font-weight="bold" fill="#000" stroke="#000" stroke-width="0.1" textLength="10.6" lengthAdjust="spacingAndGlyphs">28.5%</text>
<polyline points="152.2,154.1 152.2,154.7 157.5,154.7 157.5,154.1" fill="none" stroke="#8a8a8a" stroke-width="0.55"/>
<rect x="155.1" y="141.6" width="10.9" height="3.9" fill="#fff" fill-opacity="0.85"/>
<text x="155.3" y="145.1" font-family='"Liberation Sans", sans-serif' font-size="4.5" font-weight="bold" fill="#000" stroke="#000" stroke-width="0.1" textLength="10.5" lengthAdjust="spacingAndGlyphs">26.7%</text>
<polyline points="158.2,146.5 158.2,147.1 163.5,147.1 163.5,146.5" fill="none" stroke="#8a8a8a" stroke-width="0.55"/>
<rect x="160.3" y="134.2" width="9.9" height="3.9" fill="#fff" fill-opacity="0.85"/>
<text x="160.5" y="137.7" font-family='"Liberation Sans", sans-serif' font-size="4.5" font-weight="bold" fill="#000" stroke="#000" stroke-width="0.1" textLength="9.5" lengthAdjust="spacingAndGlyphs">15.0%</text>
<polyline points="163.2,139.1 163.2,139.7 167.9,139.7 167.9,139.1" fill="none" stroke="#8a8a8a" stroke-width="0.55"/>
<rect x="165.4" y="127.1" width="10.0" height="3.9" fill="#fff" fill-opacity="0.85"/>
<text x="165.6" y="130.6" font-family='"Liberation Sans", sans-serif' font-size="4.5" font-weight="bold" fill="#000" stroke="#000" stroke-width="0.1" textLength="9.6" lengthAdjust="spacingAndGlyphs">8.42%</text>
<polyline points="168.3,132.0 168.3,132.6 173.1,132.6 173.1,132.0" fill="none" stroke="#8a8a8a" stroke-width="0.55"/>
<rect x="170.5" y="120.2" width="11.7" height="3.9" fill="#fff" fill-opacity="0.85"/>
<text x="170.7" y="123.7" font-family='"Liberation Sans", sans-serif' font-size="4.5" font-weight="bold" fill="#000" stroke="#000" stroke-width="0.1" textLength="11.3" lengthAdjust="spacingAndGlyphs">4.92%</text>
<polyline points="173.9,125.1 173.9,125.7 179.5,125.7 179.5,125.1" fill="none" stroke="#8a8a8a" stroke-width="0.55"/>
<rect x="119.6" y="111" width="72.4" height="72.19999999999999" fill="none" stroke="#6e6e6e" stroke-width="0.95"/>
<line x1="119.6" y1="183.2" x2="192" y2="183.2" stroke="#333" stroke-width="1.0" />
<text x="236.9" y="103.6" font-family='"Liberation Sans", sans-serif' font-size="6.9" font-weight="bold" fill="#111" stroke="#111" stroke-width="0.22" textLength="33.2" lengthAdjust="spacingAndGlyphs">CD4<tspan font-size="3.4" dy="-2.3">+</tspan><tspan dy="2.3"> Naive</tspan></text>
<line x1="218.0" y1="179.04285714285714" x2="219.3" y2="179.04285714285714" stroke="#999" stroke-width="0.7" />
<line x1="218.0" y1="173.88571428571427" x2="219.3" y2="173.88571428571427" stroke="#999" stroke-width="0.7" />
<line x1="218.0" y1="168.72857142857143" x2="219.3" y2="168.72857142857143" stroke="#999" stroke-width="0.7" />
<line x1="218.0" y1="163.57142857142856" x2="219.3" y2="163.57142857142856" stroke="#999" stroke-width="0.7" />
<line x1="218.0" y1="158.4142857142857" x2="219.3" y2="158.4142857142857" stroke="#999" stroke-width="0.7" />
<line x1="218.0" y1="153.25714285714284" x2="219.3" y2="153.25714285714284" stroke="#999" stroke-width="0.7" />
<line x1="218.0" y1="148.1" x2="219.3" y2="148.1" stroke="#999" stroke-width="0.7" />
<line x1="218.0" y1="142.94285714285712" x2="219.3" y2="142.94285714285712" stroke="#999" stroke-width="0.7" />
<line x1="218.0" y1="137.78571428571428" x2="219.3" y2="137.78571428571428" stroke="#999" stroke-width="0.7" />
<line x1="218.0" y1="132.62857142857143" x2="219.3" y2="132.62857142857143" stroke="#999" stroke-width="0.7" />
<line x1="218.0" y1="127.47142857142858" x2="219.3" y2="127.47142857142858" stroke="#999" stroke-width="0.7" />
<line x1="218.0" y1="122.31428571428572" x2="219.3" y2="122.31428571428572" stroke="#999" stroke-width="0.7" />
<line x1="218.0" y1="117.15714285714286" x2="219.3" y2="117.15714285714286" stroke="#999" stroke-width="0.7" />
<line x1="224.60000000000002" y1="184.2" x2="224.60000000000002" y2="185.7" stroke="#999" stroke-width="0.6" />
<text x="224.6" y="192.6" font-family='"Liberation Serif", serif' font-size="4.8" font-weight="normal" fill="#333" text-anchor="middle" >0</text>
<line x1="233.6" y1="184.2" x2="233.6" y2="185.7" stroke="#999" stroke-width="0.6" />
<text x="233.6" y="192.6" font-family='"Liberation Serif", serif' font-size="4.8" font-weight="normal" fill="#333" text-anchor="middle" >1</text>
<line x1="272.9" y1="184.2" x2="272.9" y2="185.7" stroke="#999" stroke-width="0.6" />
<text x="272.9" y="192.6" font-family='"Liberation Serif", serif' font-size="4.8" font-weight="normal" fill="#333" text-anchor="middle" >1</text>
<line x1="285.9" y1="184.2" x2="285.9" y2="185.7" stroke="#999" stroke-width="0.6" />
<text x="285.9" y="192.6" font-family='"Liberation Serif", serif' font-size="4.8" fill="#333" text-anchor="middle">10<tspan font-size="3.3" dy="-2.1">5</tspan></text>
<path d="M219.5,183.9 L226.0,183.7 L229.0,182.0 L231.1,181.4 L233.5,182.5 L237.0,183.4 L245.3,181.9 L246.9,176.8 L248.5,175.9 L250.5,168.0 L252.0,158.0 L253.0,145.4 L253.8,129.7 L254.6,119.8 L255.8,117.9 L257.0,119.8 L258.2,127.5 L259.3,122.8 L260.5,116.8 L261.5,121.8 L262.2,139.5 L262.3,149.4 L263.7,151.3 L264.9,150.4 L265.6,149.4 L266.4,157.2 L267.2,163.1 L268.1,168.6 L270.6,169.6 L271.6,172.9 L272.9,177.5 L274.6,178.8 L275.9,178.1 L277.2,179.8 L278.8,182.1 L280.8,183.8 L291.0,183.9 L291.0,184.2 L219.5,184.2 Z" fill="#e8e8e8" stroke="none"/>
<path d="M219.5,183.9 L226.0,183.7 L229.0,182.0 L231.1,181.4 L233.5,182.5 L237.0,183.4 L245.3,181.9 L246.9,176.8 L248.5,175.9 L250.5,168.0 L252.0,158.0 L253.0,145.4 L253.8,129.7 L254.6,119.8 L255.8,117.9 L257.0,119.8 L258.2,127.5 L259.3,122.8 L260.5,116.8 L261.5,121.8 L262.2,139.5 L262.3,149.4 L263.7,151.3 L264.9,150.4 L265.6,149.4 L266.4,157.2 L267.2,163.1 L268.1,168.6 L270.6,169.6 L271.6,172.9 L272.9,177.5 L274.6,178.8 L275.9,178.1 L277.2,179.8 L278.8,182.1 L280.8,183.8 L291.0,183.9" fill="none" stroke="#111" stroke-width="1" stroke-linejoin="round"/>
<rect x="235.4" y="171.8" width="13.1" height="3.9" fill="#fff" fill-opacity="0.85"/>
<text x="235.6" y="175.3" font-family='"Liberation Sans", sans-serif' font-size="4.5" font-weight="bold" fill="#000" stroke="#000" stroke-width="0.1" textLength="12.7" lengthAdjust="spacingAndGlyphs">0.304%</text>
<polyline points="239.2,176.7 239.2,177.3 245.5,177.3 245.5,176.7" fill="none" stroke="#8a8a8a" stroke-width="0.55"/>
<rect x="240.2" y="164.6" width="10.0" height="3.9" fill="#fff" fill-opacity="0.85"/>
<text x="240.4" y="168.1" font-family='"Liberation Sans", sans-serif' font-size="4.5" font-weight="bold" fill="#000" stroke="#000" stroke-width="0.1" textLength="9.6" lengthAdjust="spacingAndGlyphs">1.29%</text>
<polyline points="243.1,169.5 243.1,170.1 247.9,170.1 247.9,169.5" fill="none" stroke="#8a8a8a" stroke-width="0.55"/>
<rect x="244.8" y="157.4" width="10.5" height="3.9" fill="#fff" fill-opacity="0.85"/>
<text x="245.0" y="160.9" font-family='"Liberation Sans", sans-serif' font-size="4.5" font-weight="bold" fill="#000" stroke="#000" stroke-width="0.1" textLength="10.1" lengthAdjust="spacingAndGlyphs">8.67%</text>
<polyline points="247.8,162.3 247.8,162.9 252.9,162.9 252.9,162.3" fill="none" stroke="#8a8a8a" stroke-width="0.55"/>
<rect x="249.4" y="149.6" width="11.0" height="3.9" fill="#fff" fill-opacity="0.85"/>
<text x="249.6" y="153.1" font-family='"Liberation Sans", sans-serif' font-size="4.5" font-weight="bold" fill="#000" stroke="#000" stroke-width="0.1" textLength="10.6" lengthAdjust="spacingAndGlyphs">30.0%</text>
<polyline points="252.6,154.5 252.6,155.1 257.9,155.1 257.9,154.5" fill="none" stroke="#8a8a8a" stroke-width="0.55"/>
<rect x="254.5" y="142.4" width="10.7" height="3.9" fill="#fff" fill-opacity="0.85"/>
<text x="254.7" y="145.9" font-family='"Liberation Sans", sans-serif' font-size="4.5" font-weight="bold" fill="#000" stroke="#000" stroke-width="0.1" textLength="10.3" lengthAdjust="spacingAndGlyphs">30.7%</text>
<polyline points="257.6,147.3 257.6,147.9 262.7,147.9 262.7,147.3" fill="none" stroke="#8a8a8a" stroke-width="0.55"/>
<rect x="259.7" y="135.2" width="10.6" height="3.9" fill="#fff" fill-opacity="0.85"/>
<text x="259.9" y="138.7" font-family='"Liberation Sans", sans-serif' font-size="4.5" font-weight="bold" fill="#000" stroke="#000" stroke-width="0.1" textLength="10.2" lengthAdjust="spacingAndGlyphs">16.0%</text>
<polyline points="262.8,140.1 262.8,140.7 267.9,140.7 267.9,140.1" fill="none" stroke="#8a8a8a" stroke-width="0.55"/>
<rect x="264.4" y="128.4" width="11.0" height="3.9" fill="#fff" fill-opacity="0.85"/>
<text x="264.6" y="131.9" font-family='"Liberation Sans", sans-serif' font-size="4.5" font-weight="bold" fill="#000" stroke="#000" stroke-width="0.1" textLength="10.6" lengthAdjust="spacingAndGlyphs">7.23%</text>
<polyline points="267.6,133.3 267.6,133.9 272.9,133.9 272.9,133.3" fill="none" stroke="#8a8a8a" stroke-width="0.55"/>
<rect x="270.4" y="121.1" width="10.5" height="3.9" fill="#fff" fill-opacity="0.85"/>
<text x="270.6" y="124.6" font-family='"Liberation Sans", sans-serif' font-size="4.5" font-weight="bold" fill="#000" stroke="#000" stroke-width="0.1" textLength="10.1" lengthAdjust="spacingAndGlyphs">2.79%</text>
<polyline points="273.4,126.0 273.4,126.6 278.5,126.6 278.5,126.0" fill="none" stroke="#8a8a8a" stroke-width="0.55"/>
<rect x="219.3" y="112" width="72.5" height="72.19999999999999" fill="none" stroke="#6e6e6e" stroke-width="0.95"/>
<line x1="219.3" y1="184.2" x2="291.8" y2="184.2" stroke="#333" stroke-width="1.0" />
<text x="328" y="105.2" font-family='"Liberation Sans", sans-serif' font-size="6.9" font-weight="bold" fill="#111" stroke="#111" stroke-width="0.22" textLength="55.4" lengthAdjust="spacingAndGlyphs">CD4<tspan font-size="3.4" dy="-2.3">+</tspan><tspan dy="2.3"> IgM Memory</tspan></text>
<line x1="315.8" y1="177.1357142857143" x2="317.1" y2="177.1357142857143" stroke="#999" stroke-width="0.7" />
<line x1="315.8" y1="171.9714285714286" x2="317.1" y2="171.9714285714286" stroke="#999" stroke-width="0.7" />
<line x1="315.8" y1="166.80714285714288" x2="317.1" y2="166.80714285714288" stroke="#999" stroke-width="0.7" />
<line x1="315.8" y1="161.64285714285714" x2="317.1" y2="161.64285714285714" stroke="#999" stroke-width="0.7" />
<line x1="315.8" y1="156.47857142857143" x2="317.1" y2="156.47857142857143" stroke="#999" stroke-width="0.7" />
<line x1="315.8" y1="151.31428571428572" x2="317.1" y2="151.31428571428572" stroke="#999" stroke-width="0.7" />
<line x1="315.8" y1="146.15" x2="317.1" y2="146.15" stroke="#999" stroke-width="0.7" />
<line x1="315.8" y1="140.9857142857143" x2="317.1" y2="140.9857142857143" stroke="#999" stroke-width="0.7" />
<line x1="315.8" y1="135.82142857142858" x2="317.1" y2="135.82142857142858" stroke="#999" stroke-width="0.7" />
<line x1="315.8" y1="130.65714285714284" x2="317.1" y2="130.65714285714284" stroke="#999" stroke-width="0.7" />
<line x1="315.8" y1="125.49285714285713" x2="317.1" y2="125.49285714285713" stroke="#999" stroke-width="0.7" />
<line x1="315.8" y1="120.32857142857142" x2="317.1" y2="120.32857142857142" stroke="#999" stroke-width="0.7" />
<line x1="315.8" y1="115.16428571428573" x2="317.1" y2="115.16428571428573" stroke="#999" stroke-width="0.7" />
<line x1="322.20000000000005" y1="182.3" x2="322.20000000000005" y2="183.8" stroke="#999" stroke-width="0.6" />
<text x="322.2" y="190.4" font-family='"Liberation Serif", serif' font-size="4.8" font-weight="normal" fill="#333" text-anchor="middle" >0</text>
<line x1="333.40000000000003" y1="182.3" x2="333.40000000000003" y2="183.8" stroke="#999" stroke-width="0.6" />
<text x="333.4" y="190.4" font-family='"Liberation Serif", serif' font-size="4.8" fill="#333" text-anchor="middle">10<tspan font-size="3.3" dy="-2.1">2</tspan></text>
<line x1="350.70000000000005" y1="182.3" x2="350.70000000000005" y2="183.8" stroke="#999" stroke-width="0.6" />
<text x="350.7" y="190.4" font-family='"Liberation Serif", serif' font-size="4.8" fill="#333" text-anchor="middle">10<tspan font-size="3.3" dy="-2.1">3</tspan></text>
<line x1="367.90000000000003" y1="182.3" x2="367.90000000000003" y2="183.8" stroke="#999" stroke-width="0.6" />
<text x="367.9" y="190.4" font-family='"Liberation Serif", serif' font-size="4.8" fill="#333" text-anchor="middle">10<tspan font-size="3.3" dy="-2.1">4</tspan></text>
<line x1="383.5" y1="182.3" x2="383.5" y2="183.8" stroke="#999" stroke-width="0.6" />
<text x="383.5" y="190.4" font-family='"Liberation Serif", serif' font-size="4.8" fill="#333" text-anchor="middle">10<tspan font-size="3.3" dy="-2.1">5</tspan></text>
<path d="M317.5,181.9 L324.0,181.7 L327.8,179.6 L331.7,179.8 L335.0,181.4 L343.6,181.2 L345.1,176.1 L346.5,173.1 L348.5,166.0 L350.4,157.2 L351.2,143.4 L351.8,134.0 L352.5,131.5 L353.4,132.6 L354.2,135.6 L355.2,137.2 L356.4,134.5 L357.4,135.0 L358.2,137.6 L359.3,143.5 L360.7,151.3 L362.0,157.2 L363.2,163.1 L364.6,167.1 L365.6,169.0 L367.2,169.0 L368.5,166.1 L369.9,149.4 L371.1,131.7 L372.3,121.8 L373.3,117.5 L374.3,119.8 L375.2,135.6 L376.2,157.2 L377.2,173.1 L378.7,179.9 L381.3,181.7 L388.0,182.0 L388.0,182.3 L317.5,182.3 Z" fill="#e8e8e8" stroke="none"/>
<path d="M317.5,181.9 L324.0,181.7 L327.8,179.6 L331.7,179.8 L335.0,181.4 L343.6,181.2 L345.1,176.1 L346.5,173.1 L348.5,166.0 L350.4,157.2 L351.2,143.4 L351.8,134.0 L352.5,131.5 L353.4,132.6 L354.2,135.6 L355.2,137.2 L356.4,134.5 L357.4,135.0 L358.2,137.6 L359.3,143.5 L360.7,151.3 L362.0,157.2 L363.2,163.1 L364.6,167.1 L365.6,169.0 L367.2,169.0 L368.5,166.1 L369.9,149.4 L371.1,131.7 L372.3,121.8 L373.3,117.5 L374.3,119.8 L375.2,135.6 L376.2,157.2 L377.2,173.1 L378.7,179.9 L381.3,181.7 L388.0,182.0" fill="none" stroke="#111" stroke-width="1" stroke-linejoin="round"/>
<line x1="373.4" y1="112.5" x2="373.4" y2="117.5" stroke="#333" stroke-width="0.7" />
<line x1="357.3" y1="128" x2="357.3" y2="135" stroke="#333" stroke-width="0.7" />
<rect x="334.1" y="169.8" width="12.7" height="3.9" fill="#fff" fill-opacity="0.85"/>
<text x="334.3" y="173.3" font-family='"Liberation Sans", sans-serif' font-size="4.5" font-weight="bold" fill="#000" stroke="#000" stroke-width="0.1" textLength="12.3" lengthAdjust="spacingAndGlyphs">0.323%</text>
<polyline points="337.7,174.7 337.7,175.3 343.9,175.3 343.9,174.7" fill="none" stroke="#8a8a8a" stroke-width="0.55"/>
<rect x="339.2" y="161.9" width="9.6" height="3.9" fill="#fff" fill-opacity="0.85"/>
<text x="339.4" y="165.4" font-family='"Liberation Sans", sans-serif' font-size="4.5" font-weight="bold" fill="#000" stroke="#000" stroke-width="0.1" textLength="9.2" lengthAdjust="spacingAndGlyphs">1.63%</text>
<polyline points="342.0,166.8 342.0,167.4 346.6,167.4 346.6,166.8" fill="none" stroke="#8a8a8a" stroke-width="0.55"/>
<rect x="343.1" y="155.1" width="9.6" height="3.9" fill="#fff" fill-opacity="0.85"/>
<text x="343.3" y="158.6" font-family='"Liberation Sans", sans-serif' font-size="4.5" font-weight="bold" fill="#000" stroke="#000" stroke-width="0.1" textLength="9.2" lengthAdjust="spacingAndGlyphs">6.73%</text>
<polyline points="345.9,160.0 345.9,160.6 350.5,160.6 350.5,160.0" fill="none" stroke="#8a8a8a" stroke-width="0.55"/>
<rect x="347.4" y="147.6" width="10.5" height="3.9" fill="#fff" fill-opacity="0.85"/>
<text x="347.6" y="151.1" font-family='"Liberation Sans", sans-serif' font-size="4.5" font-weight="bold" fill="#000" stroke="#000" stroke-width="0.1" textLength="10.1" lengthAdjust="spacingAndGlyphs">19.2%</text>
<polyline points="350.4,152.5 350.4,153.1 355.5,153.1 355.5,152.5" fill="none" stroke="#8a8a8a" stroke-width="0.55"/>
<rect x="352.5" y="140.8" width="10.5" height="3.9" fill="#fff" fill-opacity="0.85"/>
<text x="352.7" y="144.3" font-family='"Liberation Sans", sans-serif' font-size="4.5" font-weight="bold" fill="#000" stroke="#000" stroke-width="0.1" textLength="10.1" lengthAdjust="spacingAndGlyphs">20.8%</text>
<polyline points="355.5,145.7 355.5,146.3 360.6,146.3 360.6,145.7" fill="none" stroke="#8a8a8a" stroke-width="0.55"/>
<rect x="358.5" y="132.6" width="9.1" height="3.9" fill="#fff" fill-opacity="0.85"/>
<text x="358.7" y="136.1" font-family='"Liberation Sans", sans-serif' font-size="4.5" font-weight="bold" fill="#000" stroke="#000" stroke-width="0.1" textLength="8.7" lengthAdjust="spacingAndGlyphs">11.3%</text>
<polyline points="361.1,137.5 361.1,138.1 365.5,138.1 365.5,137.5" fill="none" stroke="#8a8a8a" stroke-width="0.55"/>
<rect x="362.4" y="126.1" width="10.8" height="3.9" fill="#fff" fill-opacity="0.85"/>
<text x="362.6" y="129.6" font-family='"Liberation Sans", sans-serif' font-size="4.5" font-weight="bold" fill="#000" stroke="#000" stroke-width="0.1" textLength="10.4" lengthAdjust="spacingAndGlyphs">6.17%</text>
<polyline points="365.5,131.0 365.5,131.6 370.7,131.6 370.7,131.0" fill="none" stroke="#8a8a8a" stroke-width="0.55"/>
<rect x="368.2" y="118.6" width="11.0" height="3.9" fill="#fff" fill-opacity="0.85"/>
<text x="368.4" y="122.1" font-family='"Liberation Sans", sans-serif' font-size="4.5" font-weight="bold" fill="#000" stroke="#000" stroke-width="0.1" textLength="10.6" lengthAdjust="spacingAndGlyphs">21.3%</text>
<polyline points="371.4,123.5 371.4,124.1 376.7,124.1 376.7,123.5" fill="none" stroke="#8a8a8a" stroke-width="0.55"/>
<rect x="317.1" y="110" width="72.5" height="72.30000000000001" fill="none" stroke="#6e6e6e" stroke-width="0.95"/>
<line x1="317.1" y1="182.3" x2="389.6" y2="182.3" stroke="#333" stroke-width="1.0" />
<text x="426.5" y="105.6" font-family='"Liberation Sans", sans-serif' font-size="6.9" font-weight="bold" fill="#111" stroke="#111" stroke-width="0.22" textLength="52.3" lengthAdjust="spacingAndGlyphs">CD4<tspan font-size="3.4" dy="-2.3">+</tspan><tspan dy="2.3"> Transitional</tspan></text>
<line x1="413.2" y1="178.96428571428572" x2="414.5" y2="178.96428571428572" stroke="#999" stroke-width="0.7" />
<line x1="413.2" y1="173.82857142857142" x2="414.5" y2="173.82857142857142" stroke="#999" stroke-width="0.7" />
<line x1="413.2" y1="168.69285714285715" x2="414.5" y2="168.69285714285715" stroke="#999" stroke-width="0.7" />
<line x1="413.2" y1="163.55714285714285" x2="414.5" y2="163.55714285714285" stroke="#999" stroke-width="0.7" />
<line x1="413.2" y1="158.42142857142858" x2="414.5" y2="158.42142857142858" stroke="#999" stroke-width="0.7" />
<line x1="413.2" y1="153.28571428571428" x2="414.5" y2="153.28571428571428" stroke="#999" stroke-width="0.7" />
<line x1="413.2" y1="148.15" x2="414.5" y2="148.15" stroke="#999" stroke-width="0.7" />
<line x1="413.2" y1="143.0142857142857" x2="414.5" y2="143.0142857142857" stroke="#999" stroke-width="0.7" />
<line x1="413.2" y1="137.87857142857143" x2="414.5" y2="137.87857142857143" stroke="#999" stroke-width="0.7" />
<line x1="413.2" y1="132.74285714285713" x2="414.5" y2="132.74285714285713" stroke="#999" stroke-width="0.7" />
<line x1="413.2" y1="127.60714285714286" x2="414.5" y2="127.60714285714286" stroke="#999" stroke-width="0.7" />
<line x1="413.2" y1="122.47142857142856" x2="414.5" y2="122.47142857142856" stroke="#999" stroke-width="0.7" />
<line x1="413.2" y1="117.33571428571429" x2="414.5" y2="117.33571428571429" stroke="#999" stroke-width="0.7" />
<line x1="424.0" y1="184.1" x2="424.0" y2="185.6" stroke="#999" stroke-width="0.6" />
<text x="424.0" y="191.3" font-family='"Liberation Serif", serif' font-size="4.8" fill="#333" text-anchor="middle">10<tspan font-size="3.3" dy="-2.1">1</tspan></text>
<line x1="437.9" y1="184.1" x2="437.9" y2="185.6" stroke="#999" stroke-width="0.6" />
<text x="437.9" y="191.3" font-family='"Liberation Serif", serif' font-size="4.8" fill="#333" text-anchor="middle">10<tspan font-size="3.3" dy="-2.1">2</tspan></text>
<line x1="452.4" y1="184.1" x2="452.4" y2="185.6" stroke="#999" stroke-width="0.6" />
<text x="452.4" y="191.3" font-family='"Liberation Serif", serif' font-size="4.8" fill="#333" text-anchor="middle">10<tspan font-size="3.3" dy="-2.1">3</tspan></text>
<line x1="466.8" y1="184.1" x2="466.8" y2="185.6" stroke="#999" stroke-width="0.6" />
<text x="466.8" y="191.3" font-family='"Liberation Serif", serif' font-size="4.8" fill="#333" text-anchor="middle">10<tspan font-size="3.3" dy="-2.1">4</tspan></text>
<line x1="481.6" y1="184.1" x2="481.6" y2="185.6" stroke="#999" stroke-width="0.6" />
<text x="481.6" y="191.3" font-family='"Liberation Serif", serif' font-size="4.8" fill="#333" text-anchor="middle">10<tspan font-size="3.3" dy="-2.1">5</tspan></text>
<path d="M415.0,183.6 L421.0,183.5 L424.8,181.9 L426.7,181.4 L429.7,182.2 L433.0,183.4 L439.0,183.0 L441.0,180.5 L442.8,176.8 L444.5,173.0 L446.5,169.0 L448.4,164.0 L449.3,157.0 L449.6,139.0 L450.2,139.0 L450.6,156.0 L452.5,156.5 L455.2,156.0 L456.6,156.0 L457.4,158.9 L458.1,164.6 L459.5,166.8 L460.7,167.5 L461.7,171.8 L463.1,175.5 L464.6,176.2 L466.0,173.3 L467.0,167.5 L468.2,156.0 L469.2,140.0 L469.9,125.0 L470.6,119.0 L471.5,124.0 L472.4,149.4 L473.6,167.1 L475.0,176.9 L477.0,181.9 L479.9,183.2 L487.0,183.6 L487.0,184.1 L415.0,184.1 Z" fill="#e8e8e8" stroke="none"/>
<path d="M415.0,183.6 L421.0,183.5 L424.8,181.9 L426.7,181.4 L429.7,182.2 L433.0,183.4 L439.0,183.0 L441.0,180.5 L442.8,176.8 L444.5,173.0 L446.5,169.0 L448.4,164.0 L449.3,157.0 L449.6,139.0 L450.2,139.0 L450.6,156.0 L452.5,156.5 L455.2,156.0 L456.6,156.0 L457.4,158.9 L458.1,164.6 L459.5,166.8 L460.7,167.5 L461.7,171.8 L463.1,175.5 L464.6,176.2 L466.0,173.3 L467.0,167.5 L468.2,156.0 L469.2,140.0 L469.9,125.0 L470.6,119.0 L471.5,124.0 L472.4,149.4 L473.6,167.1 L475.0,176.9 L477.0,181.9 L479.9,183.2 L487.0,183.6" fill="none" stroke="#111" stroke-width="1" stroke-linejoin="round"/>
<line x1="470.4" y1="114.5" x2="470.4" y2="119.5" stroke="#333" stroke-width="0.7" />
<rect x="436.9" y="171.5" width="14.0" height="3.9" fill="#fff" fill-opacity="0.85"/>
<text x="437.1" y="175.0" font-family='"Liberation Sans", sans-serif' font-size="4.5" font-weight="bold" fill="#000" stroke="#000" stroke-width="0.1" textLength="13.6" lengthAdjust="spacingAndGlyphs">0.386%</text>
<polyline points="440.9,176.4 440.9,177.0 447.7,177.0 447.7,176.4" fill="none" stroke="#8a8a8a" stroke-width="0.55"/>
<rect x="441.5" y="164.7" width="9.4" height="3.9" fill="#fff" fill-opacity="0.85"/>
<text x="441.7" y="168.2" font-family='"Liberation Sans", sans-serif' font-size="4.5" font-weight="bold" fill="#000" stroke="#000" stroke-width="0.1" textLength="9.0" lengthAdjust="spacingAndGlyphs">1.85%</text>
<polyline points="444.2,169.6 444.2,170.2 448.7,170.2 448.7,169.6" fill="none" stroke="#8a8a8a" stroke-width="0.55"/>
<rect x="444.1" y="156.8" width="10.8" height="3.9" fill="#fff" fill-opacity="0.85"/>
<text x="444.3" y="160.3" font-family='"Liberation Sans", sans-serif' font-size="4.5" font-weight="bold" fill="#000" stroke="#000" stroke-width="0.1" textLength="10.4" lengthAdjust="spacingAndGlyphs">7.03%</text>
<polyline points="447.2,161.7 447.2,162.3 452.4,162.3 452.4,161.7" fill="none" stroke="#8a8a8a" stroke-width="0.55"/>
<rect x="447.8" y="150.0" width="10.8" height="3.9" fill="#fff" fill-opacity="0.85"/>
<text x="448.0" y="153.5" font-family='"Liberation Sans", sans-serif' font-size="4.5" font-weight="bold" fill="#000" stroke="#000" stroke-width="0.1" textLength="10.4" lengthAdjust="spacingAndGlyphs">20.2%</text>
<polyline points="450.9,154.9 450.9,155.5 456.1,155.5 456.1,154.9" fill="none" stroke="#8a8a8a" stroke-width="0.55"/>
<rect x="452.6" y="142.5" width="10.3" height="3.9" fill="#fff" fill-opacity="0.85"/>
<text x="452.8" y="146.0" font-family='"Liberation Sans", sans-serif' font-size="4.5" font-weight="bold" fill="#000" stroke="#000" stroke-width="0.1" textLength="9.9" lengthAdjust="spacingAndGlyphs">19.3%</text>
<polyline points="455.6,147.4 455.6,148.0 460.5,148.0 460.5,147.4" fill="none" stroke="#8a8a8a" stroke-width="0.55"/>
<rect x="457.4" y="135.1" width="9.7" height="3.9" fill="#fff" fill-opacity="0.85"/>
<text x="457.6" y="138.6" font-family='"Liberation Sans", sans-serif' font-size="4.5" font-weight="bold" fill="#000" stroke="#000" stroke-width="0.1" textLength="9.3" lengthAdjust="spacingAndGlyphs">9.41%</text>
<polyline points="460.2,140.0 460.2,140.6 464.9,140.6 464.9,140.0" fill="none" stroke="#8a8a8a" stroke-width="0.55"/>
<rect x="461.5" y="127.8" width="10.4" height="3.9" fill="#fff" fill-opacity="0.85"/>
<text x="461.7" y="131.3" font-family='"Liberation Sans", sans-serif' font-size="4.5" font-weight="bold" fill="#000" stroke="#000" stroke-width="0.1" textLength="10.0" lengthAdjust="spacingAndGlyphs">6.03%</text>
<polyline points="464.5,132.7 464.5,133.3 469.5,133.3 469.5,132.7" fill="none" stroke="#8a8a8a" stroke-width="0.55"/>
<rect x="466.6" y="120.6" width="10.8" height="3.9" fill="#fff" fill-opacity="0.85"/>
<text x="466.8" y="124.1" font-family='"Liberation Sans", sans-serif' font-size="4.5" font-weight="bold" fill="#000" stroke="#000" stroke-width="0.1" textLength="10.4" lengthAdjust="spacingAndGlyphs">28.7%</text>
<polyline points="469.7,125.5 469.7,126.1 474.9,126.1 474.9,125.5" fill="none" stroke="#8a8a8a" stroke-width="0.55"/>
<rect x="414.5" y="112.2" width="72.89999999999998" height="71.89999999999999" fill="none" stroke="#6e6e6e" stroke-width="0.95"/>
<line x1="414.5" y1="184.1" x2="487.4" y2="184.1" stroke="#333" stroke-width="1.0" />
<text x="0.7" y="241.1" font-family='"Liberation Sans", sans-serif' font-size="10.6" font-weight="bold" fill="#000" text-anchor="start" textLength="7.0" lengthAdjust="spacingAndGlyphs" >B</text>
<line x1="46" y1="264.79999999999995" x2="46" y2="346.4" stroke="#111" stroke-width="1.1" />
<line x1="46" y1="346.4" x2="168" y2="346.4" stroke="#111" stroke-width="1.1" />
<line x1="43.8" y1="346.4" x2="46" y2="346.4" stroke="#111" stroke-width="1" />
<text x="42.8" y="348.59999999999997" font-family='"Liberation Sans", sans-serif' font-size="6.1" font-weight="bold" fill="#222" text-anchor="end" >0</text>
<line x1="43.8" y1="330.17999999999995" x2="46" y2="330.17999999999995" stroke="#111" stroke-width="1" />
<text x="42.8" y="332.37999999999994" font-family='"Liberation Sans", sans-serif' font-size="6.1" font-weight="bold" fill="#222" text-anchor="end" >20</text>
<line x1="43.8" y1="313.96" x2="46" y2="313.96" stroke="#111" stroke-width="1" />
<text x="42.8" y="316.15999999999997" font-family='"Liberation Sans", sans-serif' font-size="6.1" font-weight="bold" fill="#222" text-anchor="end" >40</text>
<line x1="43.8" y1="297.73999999999995" x2="46" y2="297.73999999999995" stroke="#111" stroke-width="1" />
<text x="42.8" y="299.93999999999994" font-family='"Liberation Sans", sans-serif' font-size="6.1" font-weight="bold" fill="#222" text-anchor="end" >60</text>
<line x1="43.8" y1="281.52" x2="46" y2="281.52" stroke="#111" stroke-width="1" />
<text x="42.8" y="283.71999999999997" font-family='"Liberation Sans", sans-serif' font-size="6.1" font-weight="bold" fill="#222" text-anchor="end" >80</text>
<line x1="43.8" y1="265.29999999999995" x2="46" y2="265.29999999999995" stroke="#111" stroke-width="1" />
<text x="42.8" y="267.49999999999994" font-family='"Liberation Sans", sans-serif' font-size="6.1" font-weight="bold" fill="#222" text-anchor="end" >100</text>
<text transform="translate(23.4,351) rotate(-90)" font-family='"Liberation Sans", sans-serif' font-size="6.8" font-weight="bold" fill="#222" textLength="91.5" lengthAdjust="spacingAndGlyphs">% proliferating  CD4+ T Cells</text>
<line x1="54.0" y1="269" x2="54.0" y2="266.2" stroke="#111" stroke-width="0.9" />
<line x1="52.2" y1="266.2" x2="55.8" y2="266.2" stroke="#111" stroke-width="0.9" />
<rect x="50.4" y="269" width="7.200000000000003" height="77.39999999999998" fill="url(#hB)" stroke="#111" stroke-width="0.9"/>
<line x1="78.3" y1="305" x2="78.3" y2="297.2" stroke="#111" stroke-width="0.9" />
<line x1="76.5" y1="297.2" x2="80.1" y2="297.2" stroke="#111" stroke-width="0.9" />
<rect x="75.5" y="305" width="5.599999999999994" height="41.39999999999998" fill="#000" stroke="#111" stroke-width="0.9"/>
<line x1="87.19999999999999" y1="290" x2="87.19999999999999" y2="278.4" stroke="#111" stroke-width="0.9" />
<line x1="85.39999999999999" y1="278.4" x2="88.99999999999999" y2="278.4" stroke="#111" stroke-width="0.9" />
<rect x="84.3" y="290" width="5.799999999999997" height="56.39999999999998" fill="#000" stroke="#111" stroke-width="0.9"/>
<line x1="102.55" y1="303" x2="102.55" y2="295.5" stroke="#111" stroke-width="0.9" />
<line x1="100.75" y1="295.5" x2="104.35" y2="295.5" stroke="#111" stroke-width="0.9" />
<rect x="100.1" y="303" width="4.900000000000006" height="43.39999999999998" fill="#6a6a6a" stroke="#111" stroke-width="0.9"/>
<line x1="112.0" y1="286.7" x2="112.0" y2="279.4" stroke="#111" stroke-width="0.9" />
<line x1="110.2" y1="279.4" x2="113.8" y2="279.4" stroke="#111" stroke-width="0.9" />
<rect x="109" y="286.7" width="6" height="59.69999999999999" fill="#6a6a6a" stroke="#111" stroke-width="0.9"/>
<line x1="126.65" y1="270.3" x2="126.65" y2="265.6" stroke="#111" stroke-width="0.9" />
<line x1="124.85000000000001" y1="265.6" x2="128.45000000000002" y2="265.6" stroke="#111" stroke-width="0.9" />
<rect x="123.7" y="270.3" width="5.8999999999999915" height="76.09999999999997" fill="#d4d4d4" stroke="#111" stroke-width="0.9"/>
<line x1="135.75" y1="270.3" x2="135.75" y2="266.3" stroke="#111" stroke-width="0.9" />
<line x1="133.95" y1="266.3" x2="137.55" y2="266.3" stroke="#111" stroke-width="0.9" />
<rect x="132.7" y="270.3" width="6.100000000000023" height="76.09999999999997" fill="#d4d4d4" stroke="#111" stroke-width="0.9"/>
<line x1="151.35000000000002" y1="269.8" x2="151.35000000000002" y2="266.2" stroke="#111" stroke-width="0.9" />
<line x1="149.55" y1="266.2" x2="153.15000000000003" y2="266.2" stroke="#111" stroke-width="0.9" />
<rect x="148.3" y="269.8" width="6.099999999999994" height="76.59999999999997" fill="#fff" stroke="#111" stroke-width="0.9"/>
<line x1="160.25" y1="269.8" x2="160.25" y2="265.6" stroke="#111" stroke-width="0.9" />
<line x1="158.45" y1="265.6" x2="162.05" y2="265.6" stroke="#111" stroke-width="0.9" />
<rect x="157.2" y="269.8" width="6.100000000000023" height="76.59999999999997" fill="#fff" stroke="#111" stroke-width="0.9"/>
<line x1="58" y1="346.4" x2="58" y2="349" stroke="#111" stroke-width="0.9" />
<line x1="82.4" y1="346.4" x2="82.4" y2="349" stroke="#111" stroke-width="0.9" />
<line x1="107" y1="346.4" x2="107" y2="349" stroke="#111" stroke-width="0.9" />
<line x1="131.5" y1="346.4" x2="131.5" y2="349" stroke="#111" stroke-width="0.9" />
<line x1="155.8" y1="346.4" x2="155.8" y2="349" stroke="#111" stroke-width="0.9" />
<line x1="52.5" y1="243.4" x2="111.3" y2="243.4" stroke="#111" stroke-width="1.5" />
<circle cx="82" cy="238.1" r="1.3" fill="#111"/>
<line x1="52.5" y1="254.7" x2="85.7" y2="254.7" stroke="#111" stroke-width="1.5" />
<circle cx="68.9" cy="249" r="1.3" fill="#111"/>
<line x1="70.8" y1="265.6" x2="88.8" y2="265.6" stroke="#111" stroke-width="1.5" />
<circle cx="80.5" cy="260.8" r="1.3" fill="#111"/>
<line x1="96.3" y1="265.6" x2="115" y2="265.6" stroke="#111" stroke-width="1.5" />
<circle cx="105" cy="260.8" r="1.3" fill="#111"/>
<rect x="176.3" y="268.6" width="9.2" height="4.8" fill="url(#hL)" stroke="#111" stroke-width="0.9"/>
<text x="189.7" y="272.8" font-family='"Liberation Sans", sans-serif' font-size="6.5" font-weight="normal" fill="#111" text-anchor="start" textLength="44.9" lengthAdjust="spacingAndGlyphs" stroke="#111" stroke-width="0.12">Positive control</text>
<rect x="176.3" y="278.05" width="9.2" height="4.8" fill="#000" stroke="#111" stroke-width="0.9"/>
<text x="189.7" y="282.25" font-family='"Liberation Sans", sans-serif' font-size="6.5" font-weight="normal" fill="#111" text-anchor="start" textLength="37.5" lengthAdjust="spacingAndGlyphs" stroke="#111" stroke-width="0.12">IgM memory</text>
<rect x="176.3" y="287.5" width="9.2" height="4.8" fill="#6a6a6a" stroke="#111" stroke-width="0.9"/>
<text x="189.7" y="291.7" font-family='"Liberation Sans", sans-serif' font-size="6.5" font-weight="normal" fill="#111" text-anchor="start" textLength="35.5" lengthAdjust="spacingAndGlyphs" stroke="#111" stroke-width="0.12">Transitional</text>
<rect x="176.3" y="296.95000000000005" width="9.2" height="4.8" fill="#d4d4d4" stroke="#111" stroke-width="0.9"/>
<text x="189.7" y="301.15000000000003" font-family='"Liberation Sans", sans-serif' font-size="6.5" font-weight="normal" fill="#111" text-anchor="start" textLength="17.5" lengthAdjust="spacingAndGlyphs" stroke="#111" stroke-width="0.12">Naive</text>
<rect x="176.3" y="306.40000000000003" width="9.2" height="4.8" fill="#fff" stroke="#111" stroke-width="0.9"/>
<text x="189.7" y="310.6" font-family='"Liberation Sans", sans-serif' font-size="6.5" font-weight="normal" fill="#111" text-anchor="start" textLength="52.7" lengthAdjust="spacingAndGlyphs" stroke="#111" stroke-width="0.12">Switched memory</text>
<text x="1.7" y="366" font-family='"Liberation Serif", serif' font-size="8" font-weight="normal" fill="#222" text-anchor="start" textLength="44" lengthAdjust="spacingAndGlyphs" stroke="#222" stroke-width="0.18">Direct contact</text>
<text x="1.7" y="378.3" font-family='"Liberation Serif", serif' font-size="8" font-weight="normal" fill="#222" text-anchor="start" textLength="31.9" lengthAdjust="spacingAndGlyphs" stroke="#222" stroke-width="0.18">Transwell</text>
<path d="M76.95,365.60 H80.45 M78.70,363.85 V367.35" stroke="#222" stroke-width="0.95" fill="none"/>
<path d="M87.30,365.60 H89.30" stroke="#333" stroke-width="0.95" fill="none"/>
<path d="M102.85,365.60 H106.35 M104.60,363.85 V367.35" stroke="#222" stroke-width="0.95" fill="none"/>
<path d="M112.80,365.60 H114.80" stroke="#333" stroke-width="0.95" fill="none"/>
<path d="M128.25,365.60 H131.75 M130.00,363.85 V367.35" stroke="#222" stroke-width="0.95" fill="none"/>
<path d="M137.80,365.60 H139.80" stroke="#333" stroke-width="0.95" fill="none"/>
<path d="M153.85,365.60 H157.35 M155.60,363.85 V367.35" stroke="#222" stroke-width="0.95" fill="none"/>
<path d="M163.60,365.60 H165.60" stroke="#333" stroke-width="0.95" fill="none"/>
<path d="M79.00,377.70 H81.00" stroke="#333" stroke-width="0.95" fill="none"/>
<path d="M87.45,377.70 H90.95 M89.20,375.95 V379.45" stroke="#222" stroke-width="0.95" fill="none"/>
<path d="M104.60,377.70 H106.60" stroke="#333" stroke-width="0.95" fill="none"/>
<path d="M113.45,377.70 H116.95 M115.20,375.95 V379.45" stroke="#222" stroke-width="0.95" fill="none"/>
<path d="M130.20,377.70 H132.20" stroke="#333" stroke-width="0.95" fill="none"/>
<path d="M139.05,377.70 H142.55 M140.80,375.95 V379.45" stroke="#222" stroke-width="0.95" fill="none"/>
<path d="M155.90,377.70 H157.90" stroke="#333" stroke-width="0.95" fill="none"/>
<path d="M164.45,377.70 H167.95 M166.20,375.95 V379.45" stroke="#222" stroke-width="0.95" fill="none"/>
<text x="260.3" y="240.9" font-family='"Liberation Sans", sans-serif' font-size="10.2" font-weight="bold" fill="#000" text-anchor="start" textLength="7.2" lengthAdjust="spacingAndGlyphs" >C</text>
<line x1="306" y1="267.4" x2="306" y2="347.8" stroke="#111" stroke-width="1.1" />
<line x1="306" y1="347.8" x2="427.4" y2="347.8" stroke="#111" stroke-width="1.1" />
<line x1="303.6" y1="347.9" x2="306" y2="347.9" stroke="#111" stroke-width="1" />
<text x="301.8" y="349.4" font-family='"Liberation Sans", sans-serif' font-size="4.3" font-weight="bold" fill="#222" text-anchor="end" >0</text>
<line x1="303.6" y1="331.9" x2="306" y2="331.9" stroke="#111" stroke-width="1" />
<text x="301.8" y="333.4" font-family='"Liberation Sans", sans-serif' font-size="4.3" font-weight="bold" fill="#222" text-anchor="end" textLength="5.5" lengthAdjust="spacing" >20</text>
<line x1="303.6" y1="315.9" x2="306" y2="315.9" stroke="#111" stroke-width="1" />
<text x="301.8" y="317.4" font-family='"Liberation Sans", sans-serif' font-size="4.3" font-weight="bold" fill="#222" text-anchor="end" textLength="5.5" lengthAdjust="spacing" >40</text>
<line x1="303.6" y1="299.9" x2="306" y2="299.9" stroke="#111" stroke-width="1" />
<text x="301.8" y="301.4" font-family='"Liberation Sans", sans-serif' font-size="4.3" font-weight="bold" fill="#222" text-anchor="end" textLength="5.5" lengthAdjust="spacing" >60</text>
<line x1="303.6" y1="283.9" x2="306" y2="283.9" stroke="#111" stroke-width="1" />
<text x="301.8" y="285.4" font-family='"Liberation Sans", sans-serif' font-size="4.3" font-weight="bold" fill="#222" text-anchor="end" textLength="5.5" lengthAdjust="spacing" >80</text>
<line x1="303.6" y1="267.9" x2="306" y2="267.9" stroke="#111" stroke-width="1" />
<text x="301.8" y="269.4" font-family='"Liberation Sans", sans-serif' font-size="4.3" font-weight="bold" fill="#222" text-anchor="end" textLength="8.6" lengthAdjust="spacing" >100</text>
<text transform="translate(283.2,351) rotate(-90)" font-family='"Liberation Sans", sans-serif' font-size="5" font-weight="bold" fill="#222" textLength="86.5" lengthAdjust="spacing">% proliferating CD4+ T cells</text>
<line x1="313.6" y1="272.6" x2="313.6" y2="272.2" stroke="#111" stroke-width="0.9" />
<line x1="311.8" y1="272.2" x2="315.40000000000003" y2="272.2" stroke="#111" stroke-width="0.9" />
<rect x="310.6" y="272.6" width="6.0" height="75.19999999999999" fill="url(#hB)" stroke="#111" stroke-width="0.9"/>
<line x1="337.45" y1="294" x2="337.45" y2="288" stroke="#111" stroke-width="0.9" />
<line x1="335.65" y1="288" x2="339.25" y2="288" stroke="#111" stroke-width="0.9" />
<rect x="334.5" y="294" width="5.899999999999977" height="53.80000000000001" fill="#000" stroke="#111" stroke-width="0.9"/>
<line x1="346.2" y1="276" x2="346.2" y2="274.2" stroke="#111" stroke-width="0.9" />
<line x1="344.4" y1="274.2" x2="348.0" y2="274.2" stroke="#111" stroke-width="0.9" />
<rect x="343.2" y="276" width="6.0" height="71.80000000000001" fill="#000" stroke="#111" stroke-width="0.9"/>
<line x1="362.15" y1="297.1" x2="362.15" y2="296.6" stroke="#111" stroke-width="0.9" />
<line x1="360.34999999999997" y1="296.6" x2="363.95" y2="296.6" stroke="#111" stroke-width="0.9" />
<rect x="359.3" y="297.1" width="5.699999999999989" height="50.69999999999999" fill="#6a6a6a" stroke="#111" stroke-width="0.9"/>
<line x1="370.75" y1="277" x2="370.75" y2="276.6" stroke="#111" stroke-width="0.9" />
<line x1="368.95" y1="276.6" x2="372.55" y2="276.6" stroke="#111" stroke-width="0.9" />
<rect x="367.8" y="277" width="5.899999999999977" height="70.80000000000001" fill="#6a6a6a" stroke="#111" stroke-width="0.9"/>
<line x1="385.9" y1="271.2" x2="385.9" y2="269.5" stroke="#111" stroke-width="0.9" />
<line x1="384.09999999999997" y1="269.5" x2="387.7" y2="269.5" stroke="#111" stroke-width="0.9" />
<rect x="383" y="271.2" width="5.800000000000011" height="76.60000000000002" fill="#d4d4d4" stroke="#111" stroke-width="0.9"/>
<line x1="394.5" y1="271" x2="394.5" y2="269.5" stroke="#111" stroke-width="0.9" />
<line x1="392.7" y1="269.5" x2="396.3" y2="269.5" stroke="#111" stroke-width="0.9" />
<rect x="391.7" y="271" width="5.600000000000023" height="76.80000000000001" fill="#d4d4d4" stroke="#111" stroke-width="0.9"/>
<line x1="410.65" y1="272" x2="410.65" y2="270.8" stroke="#111" stroke-width="0.9" />
<line x1="408.84999999999997" y1="270.8" x2="412.45" y2="270.8" stroke="#111" stroke-width="0.9" />
<rect x="407.8" y="272" width="5.699999999999989" height="75.80000000000001" fill="#fff" stroke="#111" stroke-width="0.9"/>
<line x1="418.75" y1="271" x2="418.75" y2="270" stroke="#111" stroke-width="0.9" />
<line x1="416.95" y1="270" x2="420.55" y2="270" stroke="#111" stroke-width="0.9" />
<rect x="415.9" y="271" width="5.7000000000000455" height="76.80000000000001" fill="#fff" stroke="#111" stroke-width="0.9"/>
<line x1="317" y1="347.8" x2="317" y2="350.5" stroke="#111" stroke-width="0.9" />
<line x1="341.6" y1="347.8" x2="341.6" y2="350.5" stroke="#111" stroke-width="0.9" />
<line x1="365.8" y1="347.8" x2="365.8" y2="350.5" stroke="#111" stroke-width="0.9" />
<line x1="390" y1="347.8" x2="390" y2="350.5" stroke="#111" stroke-width="0.9" />
<line x1="414.3" y1="347.8" x2="414.3" y2="350.5" stroke="#111" stroke-width="0.9" />
<line x1="313.3" y1="239.7" x2="373.8" y2="239.7" stroke="#111" stroke-width="1.4" />
<text x="340.1" y="236.8" font-family='"Liberation Sans", sans-serif' font-size="8.6" font-weight="normal" fill="#111" text-anchor="start" textLength="7.6" lengthAdjust="spacingAndGlyphs" stroke="#111" stroke-width="0.2">ns</text>
<line x1="315" y1="255.3" x2="348.8" y2="255.3" stroke="#111" stroke-width="1.4" />
<text x="329.8" y="251.7" font-family='"Liberation Sans", sans-serif' font-size="8.6" font-weight="normal" fill="#111" text-anchor="start" textLength="7.4" lengthAdjust="spacingAndGlyphs" stroke="#111" stroke-width="0.2">ns</text>
<line x1="330.5" y1="269.2" x2="349.3" y2="269.2" stroke="#111" stroke-width="1.4" />
<circle cx="340.7" cy="263.8" r="1.2" fill="#111"/>
<line x1="356.5" y1="269.2" x2="374.9" y2="269.2" stroke="#111" stroke-width="1.4" />
<circle cx="365.4" cy="263.8" r="1.2" fill="#111"/>
<rect x="434.3" y="270.9" width="9.8" height="4.6" fill="url(#hL)" stroke="#111" stroke-width="0.9"/>
<text x="448.8" y="275.3" font-family='"Liberation Sans", sans-serif' font-size="4.8" font-weight="normal" fill="#111" text-anchor="start" textLength="44.8" lengthAdjust="spacing" stroke="#111" stroke-width="0.15">Positive control</text>
<rect x="434.3" y="280.4" width="9.8" height="4.6" fill="#000" stroke="#111" stroke-width="0.9"/>
<text x="448.8" y="284.8" font-family='"Liberation Sans", sans-serif' font-size="4.8" font-weight="normal" fill="#111" text-anchor="start" textLength="35.5" lengthAdjust="spacing" stroke="#111" stroke-width="0.15">IgM memory</text>
<rect x="434.3" y="289.9" width="9.8" height="4.6" fill="#6a6a6a" stroke="#111" stroke-width="0.9"/>
<text x="448.8" y="294.3" font-family='"Liberation Sans", sans-serif' font-size="4.8" font-weight="normal" fill="#111" text-anchor="start" textLength="32.5" lengthAdjust="spacing" stroke="#111" stroke-width="0.15">Transitional</text>
<rect x="434.3" y="299.4" width="9.8" height="4.6" fill="#d4d4d4" stroke="#111" stroke-width="0.9"/>
<text x="448.8" y="303.8" font-family='"Liberation Sans", sans-serif' font-size="4.8" font-weight="normal" fill="#111" text-anchor="start" textLength="15" lengthAdjust="spacing" stroke="#111" stroke-width="0.15">Naive</text>
<rect x="434.3" y="308.9" width="9.8" height="4.6" fill="#fff" stroke="#111" stroke-width="0.9"/>
<text x="448.8" y="313.3" font-family='"Liberation Sans", sans-serif' font-size="4.8" font-weight="normal" fill="#111" text-anchor="start" textLength="51.5" lengthAdjust="spacing" stroke="#111" stroke-width="0.15">Switched memory</text>
<text x="267.8" y="365" font-family='"Liberation Serif", serif' font-size="7.6" font-weight="normal" fill="#222" text-anchor="start" textLength="29.9" lengthAdjust="spacingAndGlyphs" stroke="#222" stroke-width="0.18">Transwell</text>
<text x="267.8" y="376.6" font-family='"Liberation Serif", serif' font-size="7.6" font-weight="normal" fill="#222" text-anchor="start" textLength="43.8" lengthAdjust="spacingAndGlyphs" stroke="#222" stroke-width="0.18">IL-10 Blocking</text>
<path d="M338.85,363.80 H342.35 M340.60,362.05 V365.55" stroke="#222" stroke-width="0.95" fill="none"/>
<path d="M348.45,363.80 H351.95 M350.20,362.05 V365.55" stroke="#222" stroke-width="0.95" fill="none"/>
<path d="M362.85,363.80 H366.35 M364.60,362.05 V365.55" stroke="#222" stroke-width="0.95" fill="none"/>
<path d="M372.85,363.80 H376.35 M374.60,362.05 V365.55" stroke="#222" stroke-width="0.95" fill="none"/>
<path d="M389.45,363.80 H392.95 M391.20,362.05 V365.55" stroke="#222" stroke-width="0.95" fill="none"/>
<path d="M399.05,363.80 H402.55 M400.80,362.05 V365.55" stroke="#222" stroke-width="0.95" fill="none"/>
<path d="M411.35,363.80 H414.85 M413.10,362.05 V365.55" stroke="#222" stroke-width="0.95" fill="none"/>
<path d="M421.15,363.80 H424.65 M422.90,362.05 V365.55" stroke="#222" stroke-width="0.95" fill="none"/>
<path d="M340.90,375.30 H342.90" stroke="#333" stroke-width="0.95" fill="none"/>
<path d="M348.45,375.30 H351.95 M350.20,373.55 V377.05" stroke="#222" stroke-width="0.95" fill="none"/>
<path d="M365.20,375.30 H367.20" stroke="#333" stroke-width="0.95" fill="none"/>
<path d="M372.85,375.30 H376.35 M374.60,373.55 V377.05" stroke="#222" stroke-width="0.95" fill="none"/>
<path d="M390.90,375.30 H392.90" stroke="#333" stroke-width="0.95" fill="none"/>
<path d="M399.05,375.30 H402.55 M400.80,373.55 V377.05" stroke="#222" stroke-width="0.95" fill="none"/>
<path d="M413.20,375.30 H415.20" stroke="#333" stroke-width="0.95" fill="none"/>
<path d="M421.15,375.30 H424.65 M422.90,373.55 V377.05" stroke="#222" stroke-width="0.95" fill="none"/></svg>
</body></html>
